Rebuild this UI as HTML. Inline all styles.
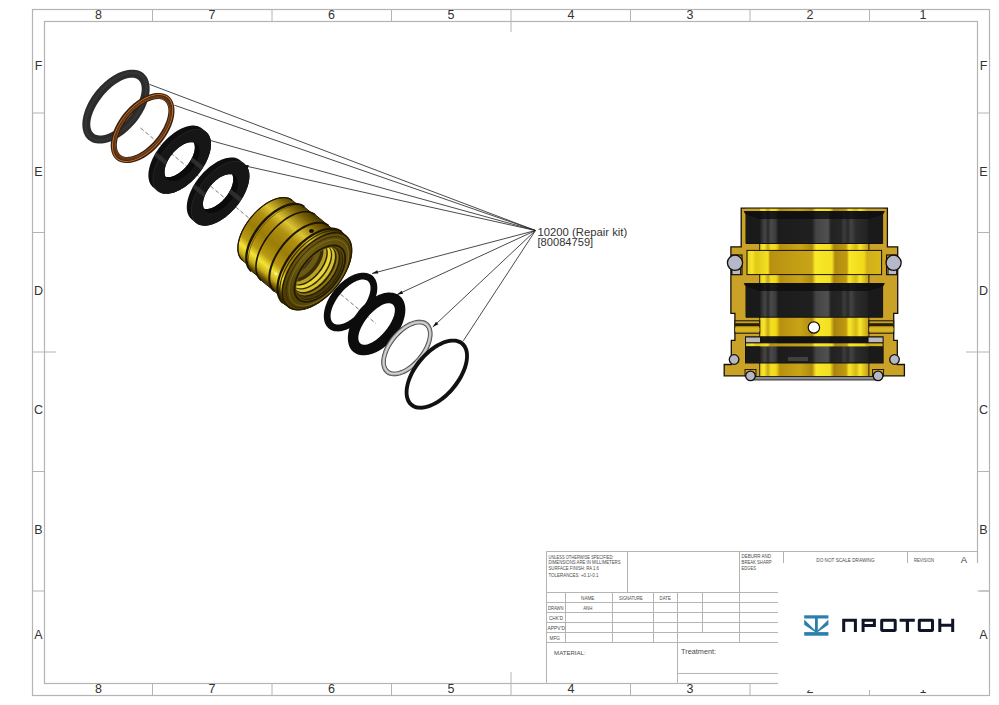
<!DOCTYPE html>
<html><head><meta charset="utf-8"><style>
html,body{margin:0;padding:0;background:#fff;}
svg{display:block;}
text{font-family:"Liberation Sans",sans-serif;}
.rl{font-size:12.5px;fill:#333;text-anchor:middle;}
</style></head><body>
<svg width="999" height="705" viewBox="0 0 999 705">

<defs>
<linearGradient id="gr1" gradientUnits="userSpaceOnUse" x1="80" y1="140" x2="150" y2="70">
<stop offset="0" stop-color="#262626"/><stop offset="0.5" stop-color="#3a3a3a"/><stop offset="1" stop-color="#2a2a2a"/></linearGradient>
<linearGradient id="gold" gradientUnits="userSpaceOnUse" x1="262" y1="285" x2="322" y2="213"><stop offset="0" stop-color="#2a2000"/><stop offset="0.06" stop-color="#5a4604"/><stop offset="0.12" stop-color="#c8b018"/><stop offset="0.19" stop-color="#f4e438"/><stop offset="0.27" stop-color="#b89810"/><stop offset="0.42" stop-color="#9a7c08"/><stop offset="0.58" stop-color="#b09010"/><stop offset="0.68" stop-color="#dcc434"/><stop offset="0.84" stop-color="#7a6206"/><stop offset="1" stop-color="#2a2000"/></linearGradient>
<linearGradient id="face" gradientUnits="userSpaceOnUse" x1="282" y1="300" x2="352" y2="240"><stop offset="0" stop-color="#4a3c04"/><stop offset="0.5" stop-color="#6e5c12"/><stop offset="1" stop-color="#5a4a0a"/></linearGradient>
<linearGradient id="bore" gradientUnits="userSpaceOnUse" x1="746" y1="0" x2="882" y2="0"><stop offset="0.0000" stop-color="#c9a227"/><stop offset="0.1007" stop-color="#c9a227"/><stop offset="0.1029" stop-color="#e8d020"/><stop offset="0.1324" stop-color="#f8e828"/><stop offset="0.1618" stop-color="#c8a818"/><stop offset="0.1838" stop-color="#f4e020"/><stop offset="0.2206" stop-color="#f0d818"/><stop offset="0.2500" stop-color="#b89010"/><stop offset="0.3971" stop-color="#c8a418"/><stop offset="0.4853" stop-color="#b08a10"/><stop offset="0.5147" stop-color="#f8e828"/><stop offset="0.6176" stop-color="#f4e020"/><stop offset="0.6471" stop-color="#a88410"/><stop offset="0.7353" stop-color="#c09a10"/><stop offset="0.7574" stop-color="#f8e828"/><stop offset="0.8088" stop-color="#d8b818"/><stop offset="0.8382" stop-color="#f8e828"/><stop offset="0.8934" stop-color="#c8a418"/><stop offset="0.8971" stop-color="#c9a227"/><stop offset="1.0000" stop-color="#c9a227"/></linearGradient>
<linearGradient id="band" gradientUnits="userSpaceOnUse" x1="747" y1="0" x2="882" y2="0"><stop offset="0.0000" stop-color="#e8d020"/><stop offset="0.0370" stop-color="#f8e828"/><stop offset="0.0667" stop-color="#e0c818"/><stop offset="0.1556" stop-color="#f4e020"/><stop offset="0.1704" stop-color="#b89010"/><stop offset="0.3185" stop-color="#c09c14"/><stop offset="0.4815" stop-color="#c8a418"/><stop offset="0.5037" stop-color="#f8e828"/><stop offset="0.6296" stop-color="#f4e020"/><stop offset="0.6519" stop-color="#b08c10"/><stop offset="0.7407" stop-color="#c09a10"/><stop offset="0.7556" stop-color="#f8e828"/><stop offset="0.8667" stop-color="#f0d818"/><stop offset="0.8889" stop-color="#d0b018"/><stop offset="1.0000" stop-color="#d8b818"/></linearGradient>
<linearGradient id="seal" gradientUnits="userSpaceOnUse" x1="746" y1="0" x2="882" y2="0"><stop offset="0.0000" stop-color="#1a1a1a"/><stop offset="0.1029" stop-color="#1a1a1a"/><stop offset="0.1103" stop-color="#2a2a2a"/><stop offset="0.1397" stop-color="#464646"/><stop offset="0.1618" stop-color="#2a2a2a"/><stop offset="0.1838" stop-color="#4a4a4a"/><stop offset="0.2206" stop-color="#3a3a3a"/><stop offset="0.2353" stop-color="#1c1c1c"/><stop offset="0.4853" stop-color="#202020"/><stop offset="0.5147" stop-color="#444"/><stop offset="0.6029" stop-color="#505050"/><stop offset="0.6250" stop-color="#222"/><stop offset="0.6985" stop-color="#262626"/><stop offset="0.7206" stop-color="#3c3c3c"/><stop offset="0.7500" stop-color="#2a2a2a"/><stop offset="0.7721" stop-color="#444"/><stop offset="0.8088" stop-color="#2c2c2c"/><stop offset="0.8971" stop-color="#222"/><stop offset="0.9044" stop-color="#1a1a1a"/><stop offset="1.0000" stop-color="#1a1a1a"/></linearGradient>
</defs>

<rect width="999" height="705" fill="#fff"/>
<rect x="32.5" y="9.5" width="957" height="686" fill="none" stroke="#b4b4b4" stroke-width="1.2"/>
<rect x="44.5" y="21.5" width="933" height="662" fill="none" stroke="#b4b4b4" stroke-width="1.2"/>
<line x1="152.5" y1="9.5" x2="152.5" y2="21.5" stroke="#b4b4b4" stroke-width="1"/>
<line x1="152.5" y1="683.5" x2="152.5" y2="695.5" stroke="#b4b4b4" stroke-width="1"/>
<line x1="272" y1="9.5" x2="272" y2="21.5" stroke="#b4b4b4" stroke-width="1"/>
<line x1="272" y1="683.5" x2="272" y2="695.5" stroke="#b4b4b4" stroke-width="1"/>
<line x1="391.5" y1="9.5" x2="391.5" y2="21.5" stroke="#b4b4b4" stroke-width="1"/>
<line x1="391.5" y1="683.5" x2="391.5" y2="695.5" stroke="#b4b4b4" stroke-width="1"/>
<line x1="511" y1="9.5" x2="511" y2="21.5" stroke="#b4b4b4" stroke-width="1"/>
<line x1="511" y1="683.5" x2="511" y2="695.5" stroke="#b4b4b4" stroke-width="1"/>
<line x1="630.5" y1="9.5" x2="630.5" y2="21.5" stroke="#b4b4b4" stroke-width="1"/>
<line x1="630.5" y1="683.5" x2="630.5" y2="695.5" stroke="#b4b4b4" stroke-width="1"/>
<line x1="750" y1="9.5" x2="750" y2="21.5" stroke="#b4b4b4" stroke-width="1"/>
<line x1="750" y1="683.5" x2="750" y2="695.5" stroke="#b4b4b4" stroke-width="1"/>
<line x1="869.5" y1="9.5" x2="869.5" y2="21.5" stroke="#b4b4b4" stroke-width="1"/>
<line x1="869.5" y1="683.5" x2="869.5" y2="695.5" stroke="#b4b4b4" stroke-width="1"/>
<line x1="32.5" y1="113" x2="44.5" y2="113" stroke="#b4b4b4" stroke-width="1"/>
<line x1="977.5" y1="113" x2="989.5" y2="113" stroke="#b4b4b4" stroke-width="1"/>
<line x1="32.5" y1="232.5" x2="44.5" y2="232.5" stroke="#b4b4b4" stroke-width="1"/>
<line x1="977.5" y1="232.5" x2="989.5" y2="232.5" stroke="#b4b4b4" stroke-width="1"/>
<line x1="32.5" y1="352" x2="44.5" y2="352" stroke="#b4b4b4" stroke-width="1"/>
<line x1="977.5" y1="352" x2="989.5" y2="352" stroke="#b4b4b4" stroke-width="1"/>
<line x1="32.5" y1="471.5" x2="44.5" y2="471.5" stroke="#b4b4b4" stroke-width="1"/>
<line x1="977.5" y1="471.5" x2="989.5" y2="471.5" stroke="#b4b4b4" stroke-width="1"/>
<line x1="32.5" y1="591" x2="44.5" y2="591" stroke="#b4b4b4" stroke-width="1"/>
<line x1="977.5" y1="591" x2="989.5" y2="591" stroke="#b4b4b4" stroke-width="1"/>
<line x1="511" y1="21.5" x2="511" y2="32" stroke="#b4b4b4" stroke-width="1"/>
<line x1="44.5" y1="352" x2="56" y2="352" stroke="#b4b4b4" stroke-width="1"/>
<line x1="966" y1="352" x2="977.5" y2="352" stroke="#b4b4b4" stroke-width="1"/>
<line x1="511" y1="672" x2="511" y2="683.5" stroke="#b4b4b4" stroke-width="1"/>
<text x="98.6" y="19" class="rl">8</text>
<text x="98.6" y="693" class="rl">8</text>
<text x="212" y="19" class="rl">7</text>
<text x="212" y="693" class="rl">7</text>
<text x="331.5" y="19" class="rl">6</text>
<text x="331.5" y="693" class="rl">6</text>
<text x="451" y="19" class="rl">5</text>
<text x="451" y="693" class="rl">5</text>
<text x="571" y="19" class="rl">4</text>
<text x="571" y="693" class="rl">4</text>
<text x="690" y="19" class="rl">3</text>
<text x="690" y="693" class="rl">3</text>
<text x="810" y="19" class="rl">2</text>
<text x="810" y="693" class="rl">2</text>
<text x="923" y="19" class="rl">1</text>
<text x="923" y="693" class="rl">1</text>
<text x="38.5" y="70.3" class="rl">F</text>
<text x="983.5" y="70.3" class="rl">F</text>
<text x="38.5" y="176.3" class="rl">E</text>
<text x="983.5" y="176.3" class="rl">E</text>
<text x="38.5" y="295.3" class="rl">D</text>
<text x="983.5" y="295.3" class="rl">D</text>
<text x="38.5" y="414.3" class="rl">C</text>
<text x="983.5" y="414.3" class="rl">C</text>
<text x="38.5" y="534.3" class="rl">B</text>
<text x="983.5" y="534.3" class="rl">B</text>
<text x="38.5" y="639.3" class="rl">A</text>
<text x="983.5" y="639.3" class="rl">A</text>
<line x1="546.5" y1="551.5" x2="977.5" y2="551.5" stroke="#b4b4b4" stroke-width="1"/>
<line x1="546.5" y1="551.5" x2="546.5" y2="683.5" stroke="#b4b4b4" stroke-width="1"/>
<line x1="627.5" y1="551.5" x2="627.5" y2="592.5" stroke="#b4b4b4" stroke-width="1"/>
<line x1="546.5" y1="592.5" x2="778" y2="592.5" stroke="#b4b4b4" stroke-width="1"/>
<line x1="546.5" y1="602.5" x2="778" y2="602.5" stroke="#b4b4b4" stroke-width="1"/>
<line x1="546.5" y1="612.5" x2="778" y2="612.5" stroke="#b4b4b4" stroke-width="1"/>
<line x1="546.5" y1="622.5" x2="778" y2="622.5" stroke="#b4b4b4" stroke-width="1"/>
<line x1="546.5" y1="632.5" x2="778" y2="632.5" stroke="#b4b4b4" stroke-width="1"/>
<line x1="546.5" y1="642.5" x2="778" y2="642.5" stroke="#b4b4b4" stroke-width="1"/>
<line x1="677.5" y1="673.5" x2="778" y2="673.5" stroke="#b4b4b4" stroke-width="1"/>
<line x1="565.5" y1="592.5" x2="565.5" y2="642.5" stroke="#b4b4b4" stroke-width="1"/>
<line x1="612.5" y1="592.5" x2="612.5" y2="642.5" stroke="#b4b4b4" stroke-width="1"/>
<line x1="653.5" y1="592.5" x2="653.5" y2="642.5" stroke="#b4b4b4" stroke-width="1"/>
<line x1="677.5" y1="592.5" x2="677.5" y2="683.5" stroke="#b4b4b4" stroke-width="1"/>
<line x1="702.5" y1="592.5" x2="702.5" y2="632.5" stroke="#b4b4b4" stroke-width="1"/>
<line x1="739.5" y1="551.5" x2="739.5" y2="642.5" stroke="#b4b4b4" stroke-width="1"/>
<line x1="783.5" y1="551.5" x2="783.5" y2="563" stroke="#b4b4b4" stroke-width="1"/>
<line x1="907.5" y1="551.5" x2="907.5" y2="563" stroke="#b4b4b4" stroke-width="1"/>
<text x="548.5" y="558.5" font-size="5.2" fill="#4a4a4a" text-anchor="start" textLength="65" lengthAdjust="spacingAndGlyphs">UNLESS OTHERWISE SPECIFIED:</text>
<text x="548.5" y="564.4" font-size="5.2" fill="#4a4a4a" text-anchor="start" textLength="72" lengthAdjust="spacingAndGlyphs">DIMENSIONS ARE IN MILLIMETERS</text>
<text x="548.5" y="570.3" font-size="5.2" fill="#4a4a4a" text-anchor="start" textLength="50.5" lengthAdjust="spacingAndGlyphs">SURFACE FINISH: RA 1.6</text>
<text x="548.5" y="576.6" font-size="5.2" fill="#4a4a4a" text-anchor="start" textLength="50" lengthAdjust="spacingAndGlyphs">TOLERANCES: +0.1/-0.1</text>
<text x="581.1" y="600" font-size="5.2" fill="#4a4a4a" text-anchor="start" textLength="13.3" lengthAdjust="spacingAndGlyphs">NAME</text>
<text x="619" y="600" font-size="5.2" fill="#4a4a4a" text-anchor="start" textLength="23.8" lengthAdjust="spacingAndGlyphs">SIGNATURE</text>
<text x="659.6" y="600" font-size="5.2" fill="#4a4a4a" text-anchor="start" textLength="11.2" lengthAdjust="spacingAndGlyphs">DATE</text>
<text x="548" y="610.1" font-size="5.2" fill="#4a4a4a" text-anchor="start" textLength="15.5" lengthAdjust="spacingAndGlyphs">DRAWN</text>
<text x="583.2" y="610.1" font-size="5.2" fill="#4a4a4a" text-anchor="start" textLength="9.1" lengthAdjust="spacingAndGlyphs">ANH</text>
<text x="549" y="619.9" font-size="5.2" fill="#4a4a4a" text-anchor="start" textLength="14" lengthAdjust="spacingAndGlyphs">CHK'D</text>
<text x="547.5" y="629.9" font-size="5.2" fill="#4a4a4a" text-anchor="start" textLength="17.5" lengthAdjust="spacingAndGlyphs">APPV'D</text>
<text x="549.5" y="639.7" font-size="5.2" fill="#4a4a4a" text-anchor="start" textLength="10.5" lengthAdjust="spacingAndGlyphs">MFG</text>
<text x="554.1" y="655.3" font-size="6.2" fill="#4a4a4a" text-anchor="start" textLength="31.5" lengthAdjust="spacingAndGlyphs">MATERIAL:</text>
<text x="681.1" y="653.8" font-size="7" fill="#4a4a4a" text-anchor="start" textLength="35" lengthAdjust="spacingAndGlyphs">Treatment:</text>
<text x="741.6" y="558.3" font-size="5.2" fill="#4a4a4a" text-anchor="start" textLength="29.4" lengthAdjust="spacingAndGlyphs">DEBURR AND</text>
<text x="741.6" y="564" font-size="5.2" fill="#4a4a4a" text-anchor="start" textLength="30" lengthAdjust="spacingAndGlyphs">BREAK SHARP</text>
<text x="741.6" y="570" font-size="5.2" fill="#4a4a4a" text-anchor="start" textLength="14.4" lengthAdjust="spacingAndGlyphs">EDGES</text>
<text x="816.3" y="561.9" font-size="5.2" fill="#4a4a4a" text-anchor="start" textLength="58.3" lengthAdjust="spacingAndGlyphs">DO NOT SCALE DRAWING</text>
<text x="914" y="562" font-size="5.2" fill="#4a4a4a" text-anchor="start" textLength="20" lengthAdjust="spacingAndGlyphs">REVISION</text>
<text x="964" y="562.5" font-size="9.5" fill="#444" text-anchor="middle">A</text>
<rect x="778" y="563" width="201.5" height="127" fill="#fff"/>
<line x1="977.5" y1="591" x2="989.5" y2="591" stroke="#b4b4b4" stroke-width="1"/>
<g fill="#2a7fab"><rect x="804.2" y="615.3" width="24.2" height="3.2"/><rect x="804.2" y="632.1" width="24.2" height="3.6"/><rect x="815" y="618" width="2.8" height="14.5"/><polygon points="804.2,619.6 804.2,624.8 815,632 815.8,631"/><polygon points="828.4,619.6 828.4,624.8 817.8,632 817,631"/></g>
<g fill="#0e1524"><path d="M842.2,631.9 V618.8 H856.9 V631.9 H853.9 V621.8 H845.2 V631.9 Z"/><path d="M861.6,631.9 V618.8 H875.9 V627.0 H864.6 V631.9 Z M864.6,621.8 V624.0 H872.9 V621.8 Z" fill-rule="evenodd"/><path fill-rule="evenodd" d="M882.0,618.8 H894.9000000000001 Q896.7,618.8 896.7,620.5999999999999 V630.1 Q896.7,631.9 894.9000000000001,631.9 H882.0 Q880.2,631.9 880.2,630.1 V620.5999999999999 Q880.2,618.8 882.0,618.8 Z M883.2,621.8 V628.9 H893.7 V621.8 Z"/><path d="M899.6,618.8 H914.8 V621.8 H909.0 V631.9 H905.8 V621.8 H899.6 Z"/><path fill-rule="evenodd" d="M919.5999999999999,618.8 H932.2 Q934.0,618.8 934.0,620.5999999999999 V630.1 Q934.0,631.9 932.2,631.9 H919.5999999999999 Q917.8,631.9 917.8,630.1 V620.5999999999999 Q917.8,618.8 919.5999999999999,618.8 Z M920.8,621.8 V628.9 H931.0 V621.8 Z"/><path d="M938.3,618.8 H941.3 V623.7 H951.2 V618.8 H954.2 V631.9 H951.2 V626.8 H941.3 V631.9 H938.3 Z"/></g>
<line x1="140.5" y1="128" x2="376" y2="323.6" stroke="#555" stroke-width="0.8" stroke-dasharray="4,2.5"/>
<path d="M142.12,72.33 L140.67,71.50 L139.12,70.82 L137.48,70.29 L135.74,69.92 L133.91,69.70 L132.01,69.65 L130.04,69.75 L128.01,70.01 L125.93,70.42 L123.81,70.99 L121.65,71.72 L119.47,72.59 L117.28,73.61 L115.07,74.77 L112.88,76.07 L110.69,77.49 L108.53,79.04 L106.40,80.71 L104.31,82.49 L102.28,84.38 L100.30,86.36 L98.38,88.42 L96.55,90.56 L94.79,92.78 L93.13,95.05 L91.57,97.37 L90.11,99.73 L88.76,102.12 L87.52,104.53 L86.41,106.94 L85.43,109.36 L84.58,111.76 L83.86,114.15 L83.28,116.50 L82.84,118.80 L82.54,121.06 L82.38,123.25 L82.37,125.38 L82.50,127.42 L82.78,129.37 L83.20,131.22 L83.76,132.97 L84.45,134.61 L85.29,136.13 L86.25,137.52 L87.34,138.78 L88.55,139.90 L89.88,140.87 L91.33,141.70 L92.88,142.38 L94.52,142.91 L96.26,143.28 L98.09,143.50 L99.99,143.55 L101.96,143.45 L103.99,143.19 L106.07,142.78 L108.19,142.21 L110.35,141.48 L112.53,140.61 L114.72,139.59 L116.93,138.43 L119.12,137.13 L121.31,135.71 L123.47,134.16 L125.60,132.49 L127.69,130.71 L129.72,128.82 L131.70,126.84 L133.62,124.78 L135.45,122.64 L137.21,120.42 L138.87,118.15 L140.43,115.83 L141.89,113.47 L143.24,111.08 L144.48,108.67 L145.59,106.26 L146.57,103.84 L147.42,101.44 L148.14,99.05 L148.72,96.70 L149.16,94.40 L149.46,92.14 L149.62,89.95 L149.63,87.82 L149.50,85.78 L149.22,83.83 L148.80,81.98 L148.24,80.23 L147.55,78.59 L146.71,77.07 L145.75,75.68 L144.66,74.42 L143.45,73.30 Z M138.97,80.47 L139.68,81.34 L140.29,82.32 L140.79,83.41 L141.19,84.59 L141.47,85.87 L141.65,87.24 L141.72,88.69 L141.68,90.22 L141.53,91.81 L141.27,93.47 L140.90,95.19 L140.43,96.96 L139.85,98.76 L139.16,100.60 L138.38,102.47 L137.51,104.35 L136.54,106.25 L135.48,108.14 L134.34,110.03 L133.12,111.90 L131.83,113.75 L130.47,115.57 L129.05,117.36 L127.57,119.09 L126.04,120.77 L124.47,122.40 L122.87,123.95 L121.23,125.43 L119.57,126.83 L117.90,128.14 L116.22,129.36 L114.53,130.48 L112.86,131.50 L111.19,132.42 L109.55,133.22 L107.94,133.91 L106.36,134.48 L104.82,134.93 L103.33,135.27 L101.89,135.48 L100.51,135.56 L99.20,135.52 L97.97,135.36 L96.80,135.07 L95.73,134.67 L94.73,134.14 L93.83,133.49 L93.03,132.73 L92.32,131.86 L91.71,130.88 L91.21,129.79 L90.81,128.61 L90.53,127.33 L90.35,125.96 L90.28,124.51 L90.32,122.98 L90.47,121.39 L90.73,119.73 L91.10,118.01 L91.57,116.24 L92.15,114.44 L92.84,112.60 L93.62,110.73 L94.49,108.85 L95.46,106.95 L96.52,105.06 L97.66,103.17 L98.88,101.30 L100.17,99.45 L101.53,97.63 L102.95,95.84 L104.43,94.11 L105.96,92.43 L107.53,90.80 L109.13,89.25 L110.77,87.77 L112.43,86.37 L114.10,85.06 L115.78,83.84 L117.47,82.72 L119.14,81.70 L120.81,80.78 L122.45,79.98 L124.06,79.29 L125.64,78.72 L127.18,78.27 L128.67,77.93 L130.11,77.72 L131.49,77.64 L132.80,77.68 L134.03,77.84 L135.20,78.13 L136.27,78.53 L137.27,79.06 L138.17,79.71 Z" fill="#2c2c2c" fill-rule="evenodd" />
<path d="M141.03,73.89 L139.71,73.15 L138.29,72.55 L136.78,72.09 L135.18,71.79 L133.49,71.63 L131.73,71.62 L129.91,71.77 L128.02,72.06 L126.08,72.50 L124.10,73.09 L122.09,73.82 L120.04,74.69 L117.98,75.69 L115.92,76.83 L113.85,78.10 L111.79,79.49 L109.75,80.99 L107.74,82.61 L105.76,84.32 L103.83,86.14 L101.94,88.04 L100.12,90.01 L98.37,92.07 L96.69,94.18 L95.09,96.34 L93.59,98.55 L92.18,100.80 L90.87,103.07 L89.67,105.35 L88.58,107.64 L87.61,109.93 L86.76,112.20 L86.04,114.45 L85.44,116.66 L84.98,118.83 L84.65,120.95 L84.45,123.00 L84.39,124.99 L84.46,126.90 L84.67,128.72 L85.01,130.44 L85.49,132.07 L86.09,133.58 L86.83,134.98 L87.68,136.26 L88.66,137.41 L89.76,138.43 L90.97,139.31 L92.29,140.05 L93.71,140.65 L95.22,141.11 L96.82,141.41 L98.51,141.57 L100.27,141.58 L102.09,141.43 L103.98,141.14 L105.92,140.70 L107.90,140.11 L109.91,139.38 L111.96,138.51 L114.02,137.51 L116.08,136.37 L118.15,135.10 L120.21,133.71 L122.25,132.21 L124.26,130.59 L126.24,128.88 L128.17,127.06 L130.06,125.16 L131.88,123.19 L133.63,121.13 L135.31,119.02 L136.91,116.86 L138.41,114.65 L139.82,112.40 L141.13,110.13 L142.33,107.85 L143.42,105.56 L144.39,103.27 L145.24,101.00 L145.96,98.75 L146.56,96.54 L147.02,94.37 L147.35,92.25 L147.55,90.20 L147.61,88.21 L147.54,86.30 L147.33,84.48 L146.99,82.76 L146.51,81.13 L145.91,79.62 L145.17,78.22 L144.32,76.94 L143.34,75.79 L142.24,74.77 Z M141.62,77.61 L142.49,78.64 L143.24,79.80 L143.87,81.07 L144.39,82.45 L144.78,83.93 L145.05,85.51 L145.20,87.18 L145.22,88.93 L145.11,90.76 L144.88,92.65 L144.53,94.61 L144.06,96.62 L143.46,98.67 L142.75,100.75 L141.92,102.86 L140.98,104.98 L139.94,107.12 L138.79,109.25 L137.55,111.36 L136.21,113.46 L134.79,115.53 L133.28,117.56 L131.70,119.54 L130.06,121.47 L128.35,123.34 L126.59,125.13 L124.79,126.84 L122.95,128.47 L121.07,130.00 L119.18,131.43 L117.27,132.76 L115.36,133.97 L113.45,135.07 L111.55,136.05 L109.67,136.90 L107.82,137.62 L106.00,138.20 L104.23,138.65 L102.51,138.97 L100.84,139.14 L99.24,139.18 L97.71,139.07 L96.26,138.83 L94.89,138.45 L93.61,137.93 L92.43,137.28 L91.35,136.50 L90.38,135.59 L89.51,134.56 L88.76,133.40 L88.13,132.13 L87.61,130.75 L87.22,129.27 L86.95,127.69 L86.80,126.02 L86.78,124.27 L86.89,122.44 L87.12,120.55 L87.47,118.59 L87.94,116.58 L88.54,114.53 L89.25,112.45 L90.08,110.34 L91.02,108.22 L92.06,106.08 L93.21,103.95 L94.45,101.84 L95.79,99.74 L97.21,97.67 L98.72,95.64 L100.30,93.66 L101.94,91.73 L103.65,89.86 L105.41,88.07 L107.21,86.36 L109.05,84.73 L110.93,83.20 L112.82,81.77 L114.73,80.44 L116.64,79.23 L118.55,78.13 L120.45,77.15 L122.33,76.30 L124.18,75.58 L126.00,75.00 L127.77,74.55 L129.49,74.23 L131.16,74.06 L132.76,74.02 L134.29,74.13 L135.74,74.37 L137.11,74.75 L138.39,75.27 L139.57,75.92 L140.65,76.70 Z" fill="#3a3a3a" fill-rule="evenodd" opacity="0.6"/>
<path d="M167.49,95.37 L166.14,94.59 L164.68,93.96 L163.13,93.47 L161.49,93.13 L159.76,92.94 L157.97,92.90 L156.11,93.01 L154.19,93.27 L152.22,93.68 L150.21,94.23 L148.17,94.93 L146.11,95.77 L144.03,96.75 L141.94,97.86 L139.86,99.11 L137.78,100.47 L135.73,101.96 L133.71,103.55 L131.73,105.25 L129.79,107.05 L127.91,108.94 L126.09,110.90 L124.34,112.95 L122.67,115.05 L121.08,117.21 L119.59,119.42 L118.19,121.67 L116.90,123.94 L115.72,126.23 L114.66,128.53 L113.71,130.82 L112.89,133.10 L112.20,135.36 L111.63,137.59 L111.20,139.78 L110.90,141.92 L110.74,144.00 L110.72,146.01 L110.83,147.94 L111.08,149.79 L111.46,151.54 L111.97,153.19 L112.62,154.74 L113.40,156.17 L114.30,157.48 L115.32,158.66 L116.46,159.71 L117.71,160.63 L119.06,161.41 L120.52,162.04 L122.07,162.53 L123.71,162.87 L125.44,163.06 L127.23,163.10 L129.09,162.99 L131.01,162.73 L132.98,162.32 L134.99,161.77 L137.03,161.07 L139.09,160.23 L141.17,159.25 L143.26,158.14 L145.34,156.89 L147.42,155.53 L149.47,154.04 L151.49,152.45 L153.47,150.75 L155.41,148.95 L157.29,147.06 L159.11,145.10 L160.86,143.05 L162.53,140.95 L164.12,138.79 L165.61,136.58 L167.01,134.33 L168.30,132.06 L169.48,129.77 L170.54,127.47 L171.49,125.18 L172.31,122.90 L173.00,120.64 L173.57,118.41 L174.00,116.22 L174.30,114.08 L174.46,112.00 L174.48,109.99 L174.37,108.06 L174.12,106.21 L173.74,104.46 L173.23,102.81 L172.58,101.26 L171.80,99.83 L170.90,98.52 L169.88,97.34 L168.74,96.29 Z M165.50,102.00 L166.22,102.89 L166.85,103.88 L167.37,104.98 L167.78,106.18 L168.09,107.47 L168.29,108.84 L168.38,110.30 L168.35,111.84 L168.22,113.44 L167.98,115.11 L167.63,116.83 L167.17,118.60 L166.61,120.41 L165.94,122.26 L165.17,124.12 L164.31,126.01 L163.36,127.90 L162.31,129.79 L161.18,131.68 L159.97,133.55 L158.69,135.39 L157.34,137.21 L155.92,138.98 L154.45,140.71 L152.93,142.38 L151.36,144.00 L149.76,145.54 L148.12,147.01 L146.46,148.39 L144.79,149.69 L143.10,150.90 L141.42,152.01 L139.73,153.01 L138.06,153.91 L136.41,154.70 L134.79,155.37 L133.20,155.93 L131.65,156.36 L130.15,156.68 L128.70,156.87 L127.31,156.94 L125.98,156.88 L124.73,156.71 L123.55,156.40 L122.46,155.98 L121.45,155.44 L120.53,154.78 L119.70,154.00 L118.98,153.11 L118.35,152.12 L117.83,151.02 L117.42,149.82 L117.11,148.53 L116.91,147.16 L116.82,145.70 L116.85,144.16 L116.98,142.56 L117.22,140.89 L117.57,139.17 L118.03,137.40 L118.59,135.59 L119.26,133.74 L120.03,131.88 L120.89,129.99 L121.84,128.10 L122.89,126.21 L124.02,124.32 L125.23,122.45 L126.51,120.61 L127.86,118.79 L129.28,117.02 L130.75,115.29 L132.27,113.62 L133.84,112.00 L135.44,110.46 L137.08,108.99 L138.74,107.61 L140.41,106.31 L142.10,105.10 L143.78,103.99 L145.47,102.99 L147.14,102.09 L148.79,101.30 L150.41,100.63 L152.00,100.07 L153.55,99.64 L155.05,99.32 L156.50,99.13 L157.89,99.06 L159.22,99.12 L160.47,99.29 L161.65,99.60 L162.74,100.02 L163.75,100.56 L164.67,101.22 Z" fill="#3a200c" fill-rule="evenodd" />
<path d="M166.98,96.17 L165.71,95.46 L164.35,94.89 L162.89,94.46 L161.34,94.18 L159.72,94.04 L158.02,94.04 L156.25,94.19 L154.43,94.49 L152.56,94.93 L150.64,95.51 L148.69,96.23 L146.71,97.08 L144.72,98.07 L142.72,99.19 L140.71,100.43 L138.72,101.78 L136.74,103.25 L134.78,104.83 L132.86,106.51 L130.98,108.27 L129.15,110.12 L127.38,112.05 L125.68,114.05 L124.04,116.10 L122.49,118.21 L121.02,120.36 L119.64,122.54 L118.36,124.75 L117.19,126.97 L116.13,129.19 L115.17,131.41 L114.34,133.61 L113.63,135.79 L113.04,137.94 L112.57,140.04 L112.24,142.09 L112.04,144.09 L111.96,146.01 L112.02,147.85 L112.21,149.62 L112.53,151.28 L112.98,152.85 L113.55,154.31 L114.25,155.66 L115.07,156.89 L116.01,158.00 L117.06,158.98 L118.22,159.83 L119.49,160.54 L120.85,161.11 L122.31,161.54 L123.86,161.82 L125.48,161.96 L127.18,161.96 L128.95,161.81 L130.77,161.51 L132.64,161.07 L134.56,160.49 L136.51,159.77 L138.49,158.92 L140.48,157.93 L142.48,156.81 L144.49,155.57 L146.48,154.22 L148.46,152.75 L150.42,151.17 L152.34,149.49 L154.22,147.73 L156.05,145.88 L157.82,143.95 L159.52,141.95 L161.16,139.90 L162.71,137.79 L164.18,135.64 L165.56,133.46 L166.84,131.25 L168.01,129.03 L169.07,126.81 L170.03,124.59 L170.86,122.39 L171.57,120.21 L172.16,118.06 L172.63,115.96 L172.96,113.91 L173.16,111.91 L173.24,109.99 L173.18,108.15 L172.99,106.38 L172.67,104.72 L172.22,103.15 L171.65,101.69 L170.95,100.34 L170.13,99.11 L169.19,98.00 L168.14,97.02 Z M168.44,98.80 L169.32,99.86 L170.10,101.03 L170.75,102.32 L171.29,103.73 L171.70,105.23 L171.99,106.84 L172.15,108.53 L172.18,110.31 L172.09,112.16 L171.87,114.08 L171.53,116.06 L171.06,118.10 L170.47,120.17 L169.77,122.28 L168.94,124.41 L168.00,126.56 L166.96,128.71 L165.81,130.86 L164.56,133.00 L163.21,135.12 L161.78,137.21 L160.27,139.25 L158.68,141.25 L157.02,143.19 L155.30,145.07 L153.52,146.88 L151.70,148.60 L149.84,150.23 L147.95,151.77 L146.03,153.21 L144.10,154.54 L142.17,155.76 L140.23,156.86 L138.31,157.83 L136.40,158.68 L134.52,159.39 L132.68,159.97 L130.88,160.42 L129.13,160.72 L127.43,160.89 L125.80,160.91 L124.25,160.79 L122.77,160.54 L121.37,160.14 L120.07,159.60 L118.87,158.93 L117.76,158.13 L116.76,157.20 L115.88,156.14 L115.10,154.97 L114.45,153.68 L113.91,152.27 L113.50,150.77 L113.21,149.16 L113.05,147.47 L113.02,145.69 L113.11,143.84 L113.33,141.92 L113.67,139.94 L114.14,137.90 L114.73,135.83 L115.43,133.72 L116.26,131.59 L117.20,129.44 L118.24,127.29 L119.39,125.14 L120.64,123.00 L121.99,120.88 L123.42,118.79 L124.93,116.75 L126.52,114.75 L128.18,112.81 L129.90,110.93 L131.68,109.12 L133.50,107.40 L135.36,105.77 L137.25,104.23 L139.17,102.79 L141.10,101.46 L143.03,100.24 L144.97,99.14 L146.89,98.17 L148.80,97.32 L150.68,96.61 L152.52,96.03 L154.32,95.58 L156.07,95.28 L157.77,95.11 L159.40,95.09 L160.95,95.21 L162.43,95.46 L163.83,95.86 L165.13,96.40 L166.33,97.07 L167.44,97.87 Z" fill="#c06c2a" fill-rule="evenodd" />
<path d="M165.78,97.71 L164.57,97.03 L163.26,96.48 L161.87,96.06 L160.39,95.79 L158.84,95.65 L157.21,95.64 L155.52,95.78 L153.78,96.06 L151.99,96.47 L150.16,97.01 L148.30,97.69 L146.41,98.50 L144.51,99.44 L142.60,100.50 L140.69,101.67 L138.78,102.96 L136.90,104.35 L135.04,105.85 L133.21,107.44 L131.42,109.12 L129.67,110.88 L127.99,112.72 L126.36,114.62 L124.81,116.57 L123.33,118.58 L121.94,120.62 L120.63,122.70 L119.41,124.80 L118.30,126.91 L117.29,129.03 L116.39,131.15 L115.60,133.25 L114.93,135.33 L114.37,137.37 L113.94,139.38 L113.63,141.34 L113.44,143.24 L113.38,145.07 L113.44,146.83 L113.63,148.52 L113.94,150.11 L114.37,151.61 L114.93,153.01 L115.60,154.30 L116.39,155.48 L117.29,156.54 L118.30,157.48 L119.42,158.29 L120.63,158.97 L121.94,159.52 L123.33,159.94 L124.81,160.21 L126.36,160.35 L127.99,160.36 L129.68,160.22 L131.42,159.94 L133.21,159.53 L135.04,158.99 L136.90,158.31 L138.79,157.50 L140.69,156.56 L142.60,155.50 L144.51,154.33 L146.42,153.04 L148.30,151.65 L150.16,150.15 L151.99,148.56 L153.78,146.88 L155.53,145.12 L157.21,143.28 L158.84,141.38 L160.39,139.43 L161.87,137.42 L163.26,135.38 L164.57,133.30 L165.79,131.20 L166.90,129.09 L167.91,126.97 L168.81,124.85 L169.60,122.75 L170.27,120.67 L170.83,118.63 L171.26,116.62 L171.57,114.66 L171.76,112.76 L171.82,110.93 L171.76,109.17 L171.57,107.48 L171.26,105.89 L170.83,104.39 L170.27,102.99 L169.60,101.70 L168.81,100.52 L167.91,99.46 L166.90,98.52 Z M166.67,100.77 L167.49,101.75 L168.20,102.84 L168.81,104.04 L169.30,105.34 L169.67,106.73 L169.93,108.22 L170.08,109.80 L170.10,111.45 L170.01,113.17 L169.80,114.95 L169.47,116.79 L169.03,118.68 L168.47,120.61 L167.81,122.57 L167.04,124.56 L166.16,126.55 L165.18,128.56 L164.10,130.56 L162.93,132.55 L161.68,134.52 L160.34,136.47 L158.93,138.38 L157.45,140.24 L155.90,142.05 L154.30,143.80 L152.65,145.48 L150.95,147.09 L149.22,148.62 L147.46,150.06 L145.68,151.40 L143.88,152.64 L142.08,153.78 L140.28,154.81 L138.50,155.72 L136.73,156.52 L134.98,157.19 L133.27,157.73 L131.60,158.15 L129.97,158.44 L128.40,158.60 L126.89,158.63 L125.45,158.53 L124.08,158.30 L122.79,157.94 L121.58,157.44 L120.47,156.83 L119.45,156.09 L118.53,155.23 L117.71,154.25 L117.00,153.16 L116.39,151.96 L115.90,150.66 L115.53,149.27 L115.27,147.78 L115.12,146.20 L115.10,144.55 L115.19,142.83 L115.40,141.05 L115.73,139.21 L116.17,137.32 L116.73,135.39 L117.39,133.43 L118.16,131.44 L119.04,129.45 L120.02,127.44 L121.10,125.44 L122.27,123.45 L123.52,121.48 L124.86,119.53 L126.27,117.62 L127.75,115.76 L129.30,113.95 L130.90,112.20 L132.55,110.52 L134.25,108.91 L135.98,107.38 L137.74,105.94 L139.52,104.60 L141.32,103.36 L143.12,102.22 L144.92,101.19 L146.70,100.28 L148.47,99.48 L150.22,98.81 L151.93,98.27 L153.60,97.85 L155.23,97.56 L156.80,97.40 L158.31,97.37 L159.75,97.47 L161.12,97.70 L162.41,98.06 L163.62,98.56 L164.73,99.17 L165.75,99.91 Z" fill="#62381a" fill-rule="evenodd" />
<path d="M164.43,99.51 L163.30,98.87 L162.08,98.36 L160.78,97.98 L159.40,97.73 L157.95,97.61 L156.43,97.61 L154.85,97.75 L153.22,98.02 L151.55,98.41 L149.83,98.93 L148.09,99.58 L146.32,100.35 L144.54,101.24 L142.75,102.24 L140.95,103.35 L139.17,104.56 L137.40,105.88 L135.65,107.29 L133.93,108.79 L132.25,110.38 L130.61,112.04 L129.02,113.76 L127.50,115.55 L126.03,117.39 L124.64,119.28 L123.33,121.20 L122.09,123.15 L120.95,125.13 L119.90,127.11 L118.94,129.10 L118.09,131.09 L117.34,133.06 L116.70,135.01 L116.17,136.93 L115.75,138.81 L115.45,140.65 L115.26,142.43 L115.20,144.15 L115.24,145.80 L115.41,147.37 L115.69,148.86 L116.09,150.27 L116.60,151.57 L117.23,152.78 L117.96,153.88 L118.79,154.87 L119.73,155.74 L120.77,156.49 L121.90,157.13 L123.12,157.64 L124.42,158.02 L125.80,158.27 L127.25,158.39 L128.77,158.39 L130.35,158.25 L131.98,157.98 L133.65,157.59 L135.37,157.07 L137.11,156.42 L138.88,155.65 L140.66,154.76 L142.45,153.76 L144.25,152.65 L146.03,151.44 L147.80,150.12 L149.55,148.71 L151.27,147.21 L152.95,145.62 L154.59,143.96 L156.18,142.24 L157.70,140.45 L159.17,138.61 L160.56,136.72 L161.87,134.80 L163.11,132.85 L164.25,130.87 L165.30,128.89 L166.26,126.90 L167.11,124.91 L167.86,122.94 L168.50,120.99 L169.03,119.07 L169.45,117.19 L169.75,115.35 L169.94,113.57 L170.00,111.85 L169.96,110.20 L169.79,108.63 L169.51,107.14 L169.11,105.73 L168.60,104.43 L167.97,103.22 L167.24,102.12 L166.41,101.13 L165.47,100.26 Z M165.93,101.64 L166.73,102.60 L167.43,103.66 L168.03,104.83 L168.51,106.10 L168.89,107.46 L169.15,108.92 L169.30,110.45 L169.33,112.05 L169.25,113.73 L169.06,115.47 L168.75,117.26 L168.33,119.09 L167.80,120.97 L167.17,122.87 L166.42,124.80 L165.58,126.74 L164.64,128.68 L163.60,130.63 L162.47,132.56 L161.26,134.47 L159.97,136.35 L158.60,138.20 L157.16,140.01 L155.67,141.76 L154.11,143.45 L152.51,145.08 L150.86,146.64 L149.18,148.11 L147.47,149.50 L145.74,150.80 L144.00,152.00 L142.25,153.09 L140.50,154.08 L138.77,154.96 L137.04,155.72 L135.34,156.37 L133.68,156.89 L132.05,157.29 L130.46,157.56 L128.93,157.70 L127.46,157.72 L126.05,157.62 L124.71,157.38 L123.45,157.02 L122.27,156.53 L121.18,155.93 L120.18,155.20 L119.27,154.36 L118.47,153.40 L117.77,152.34 L117.17,151.17 L116.69,149.90 L116.31,148.54 L116.05,147.08 L115.90,145.55 L115.87,143.95 L115.95,142.27 L116.14,140.53 L116.45,138.74 L116.87,136.91 L117.40,135.03 L118.03,133.13 L118.78,131.20 L119.62,129.26 L120.56,127.32 L121.60,125.37 L122.73,123.44 L123.94,121.53 L125.23,119.65 L126.60,117.80 L128.04,115.99 L129.53,114.24 L131.09,112.55 L132.69,110.92 L134.34,109.36 L136.02,107.89 L137.73,106.50 L139.46,105.20 L141.20,104.00 L142.95,102.91 L144.70,101.92 L146.43,101.04 L148.16,100.28 L149.86,99.63 L151.52,99.11 L153.15,98.71 L154.74,98.44 L156.27,98.30 L157.74,98.28 L159.15,98.38 L160.49,98.62 L161.75,98.98 L162.93,99.47 L164.02,100.07 L165.02,100.80 Z" fill="#9a5622" fill-rule="evenodd" />
<path d="M192.18,125.59 L190.51,125.74 L188.79,126.03 L187.01,126.45 L185.20,127.01 L183.35,127.71 L181.48,128.53 L179.59,129.47 L177.69,130.54 L175.79,131.73 L173.90,133.02 L172.02,134.42 L170.16,135.93 L168.34,137.52 L166.56,139.21 L164.82,140.97 L163.13,142.81 L161.51,144.71 L159.95,146.66 L158.47,148.66 L157.08,150.71 L155.76,152.78 L154.54,154.88 L153.42,156.98 L152.40,159.10 L151.49,161.20 L150.69,163.29 L150.01,165.36 L149.44,167.40 L148.99,169.39 L148.66,171.34 L148.46,173.22 L148.38,175.05 L148.43,176.79 L148.59,178.46 L148.89,180.04 L149.30,181.52 L149.84,182.90 L150.49,184.18 L151.26,185.34 L152.14,186.38 L153.13,187.30 L157.67,191.05 L158.77,191.84 L159.96,192.51 L161.25,193.04 L162.62,193.44 L164.08,193.70 L165.62,193.83 L167.22,193.81 L168.89,193.66 L170.61,193.37 L172.39,192.95 L174.20,192.39 L176.05,191.69 L177.92,190.87 L179.81,189.93 L181.71,188.86 L183.61,187.67 L185.50,186.38 L187.38,184.98 L189.24,183.47 L191.06,181.88 L192.84,180.19 L194.58,178.43 L196.27,176.59 L197.89,174.69 L199.45,172.74 L200.93,170.74 L202.32,168.69 L203.64,166.62 L204.86,164.52 L205.98,162.42 L207.00,160.30 L207.91,158.20 L208.71,156.11 L209.39,154.04 L209.96,152.00 L210.41,150.01 L210.74,148.06 L210.94,146.18 L211.02,144.35 L210.97,142.61 L210.81,140.94 L210.51,139.36 L210.10,137.88 L209.56,136.50 L208.91,135.22 L208.14,134.06 L207.26,133.02 L206.27,132.10 L201.73,128.35 L200.63,127.56 L199.44,126.89 L198.15,126.36 L196.78,125.96 L195.32,125.70 L193.78,125.57 Z M165.56,176.85 L165.43,176.61 L165.11,175.78 L164.86,174.89 L164.69,173.94 L164.59,172.94 L164.56,171.90 L164.61,170.80 L164.73,169.67 L164.93,168.51 L165.19,167.31 L165.54,166.09 L165.95,164.85 L166.43,163.60 L166.97,162.33 L167.58,161.07 L168.26,159.81 L168.99,158.55 L169.77,157.31 L170.61,156.08 L171.50,154.88 L172.43,153.71 L173.40,152.57 L174.41,151.47 L175.46,150.41 L176.53,149.40 L177.62,148.45 L178.73,147.54 L179.86,146.70 L180.99,145.93 L182.13,145.22 L183.27,144.58 L184.40,144.01 L185.53,143.52 L186.63,143.10 L187.72,142.77 L188.78,142.51 L189.82,142.34 L190.82,142.25 L191.78,142.24 L192.70,142.31 L193.57,142.47 L193.84,142.55 L193.97,142.79 L194.29,143.62 L194.54,144.51 L194.71,145.46 L194.81,146.46 L194.84,147.50 L194.79,148.60 L194.67,149.73 L194.47,150.89 L194.21,152.09 L193.86,153.31 L193.45,154.55 L192.97,155.80 L192.43,157.07 L191.82,158.33 L191.14,159.59 L190.41,160.85 L189.63,162.09 L188.79,163.32 L187.90,164.52 L186.97,165.69 L186.00,166.83 L184.99,167.93 L183.94,168.99 L182.87,170.00 L181.78,170.95 L180.67,171.86 L179.54,172.70 L178.41,173.47 L177.27,174.18 L176.13,174.82 L175.00,175.39 L173.87,175.88 L172.77,176.30 L171.68,176.63 L170.62,176.89 L169.58,177.06 L168.58,177.15 L167.62,177.16 L166.70,177.09 L165.83,176.93 Z" fill="#0e0e0e" fill-rule="evenodd" />
<path d="M205.18,131.30 L203.99,130.64 L202.70,130.10 L201.32,129.71 L199.87,129.44 L198.33,129.32 L196.73,129.33 L195.06,129.49 L193.33,129.78 L191.56,130.20 L189.75,130.76 L187.90,131.45 L186.03,132.27 L184.14,133.22 L182.24,134.29 L180.34,135.47 L178.44,136.77 L176.57,138.17 L174.71,139.67 L172.89,141.27 L171.10,142.95 L169.36,144.72 L167.68,146.55 L166.06,148.45 L164.50,150.41 L163.02,152.41 L161.62,154.46 L160.31,156.53 L159.09,158.62 L157.97,160.73 L156.95,162.84 L156.04,164.95 L155.24,167.04 L154.55,169.11 L153.99,171.14 L153.54,173.14 L153.21,175.08 L153.01,176.97 L152.93,178.79 L152.97,180.54 L153.14,182.21 L153.43,183.78 L153.85,185.27 L154.38,186.65 L155.04,187.92 L155.81,189.09 L156.69,190.13 L157.67,191.05 L158.77,191.84 L159.96,192.51 L161.25,193.04 L162.62,193.44 L164.08,193.70 L165.62,193.83 L167.22,193.81 L168.89,193.66 L170.61,193.37 L172.39,192.95 L174.20,192.39 L176.05,191.69 L177.92,190.87 L179.81,189.93 L181.71,188.86 L183.61,187.67 L185.50,186.38 L187.38,184.98 L189.24,183.47 L191.06,181.88 L192.84,180.19 L194.58,178.43 L196.27,176.59 L197.89,174.69 L199.45,172.74 L200.93,170.74 L202.32,168.69 L203.64,166.62 L204.86,164.52 L205.98,162.42 L207.00,160.30 L207.91,158.20 L208.71,156.11 L209.39,154.04 L209.96,152.00 L210.41,150.01 L210.74,148.06 L210.94,146.18 L211.02,144.35 L210.97,142.61 L210.81,140.94 L210.51,139.36 L210.10,137.88 L209.56,136.50 L208.91,135.22 L208.14,134.06 L207.26,133.02 L206.27,132.10 Z M197.13,144.46 L197.66,145.08 L198.12,145.78 L198.51,146.54 L198.83,147.37 L199.08,148.26 L199.26,149.20 L199.36,150.20 L199.39,151.25 L199.34,152.34 L199.22,153.47 L199.02,154.64 L198.75,155.84 L198.41,157.06 L198.00,158.30 L197.52,159.55 L196.97,160.81 L196.36,162.08 L195.69,163.34 L194.96,164.60 L194.17,165.84 L193.33,167.07 L192.45,168.27 L191.51,169.44 L190.54,170.58 L189.53,171.68 L188.49,172.74 L187.42,173.74 L186.33,174.70 L185.21,175.60 L184.09,176.44 L182.95,177.22 L181.81,177.93 L180.68,178.57 L179.54,179.14 L178.42,179.63 L177.31,180.05 L176.23,180.38 L175.16,180.64 L174.13,180.81 L173.13,180.90 L172.17,180.91 L171.25,180.83 L170.37,180.68 L169.55,180.44 L168.78,180.12 L168.06,179.72 L167.41,179.24 L166.81,178.69 L166.29,178.07 L165.83,177.37 L165.43,176.61 L165.11,175.78 L164.86,174.89 L164.69,173.94 L164.59,172.94 L164.56,171.90 L164.61,170.80 L164.73,169.67 L164.93,168.51 L165.19,167.31 L165.54,166.09 L165.95,164.85 L166.43,163.60 L166.97,162.33 L167.58,161.07 L168.26,159.81 L168.99,158.55 L169.77,157.31 L170.61,156.08 L171.50,154.88 L172.43,153.71 L173.40,152.57 L174.41,151.47 L175.46,150.41 L176.53,149.40 L177.62,148.45 L178.73,147.54 L179.86,146.70 L180.99,145.93 L182.13,145.22 L183.27,144.58 L184.40,144.01 L185.53,143.52 L186.63,143.10 L187.72,142.77 L188.78,142.51 L189.82,142.34 L190.82,142.25 L191.78,142.24 L192.70,142.31 L193.57,142.47 L194.40,142.71 L195.17,143.03 L195.88,143.43 L196.54,143.90 Z" fill="#161616" fill-rule="evenodd" />
<path d="M165.83,177.37 L166.29,178.07 L166.81,178.69 L167.41,179.24 L168.06,179.72 L168.78,180.12 L169.55,180.44 L170.37,180.68 L171.25,180.83 L172.17,180.91 L173.13,180.90 L174.13,180.81 L175.16,180.64 L176.23,180.38 L177.31,180.05 L178.42,179.63 L179.54,179.14 L180.68,178.57 L181.81,177.93 L182.95,177.22 L184.09,176.44 L185.21,175.60 L186.33,174.70 L187.42,173.74 L188.49,172.74 L189.53,171.68 L190.54,170.58 L191.51,169.44 L192.45,168.27 L193.33,167.07 L194.17,165.84 L194.96,164.60 L195.69,163.34 L196.36,162.08 L196.97,160.81 L197.52,159.55 L198.00,158.30 L198.41,157.06 L198.75,155.84 L199.02,154.64 L199.22,153.47 L199.34,152.34 L199.39,151.25 L199.36,150.20 L199.26,149.20 L199.08,148.26 L198.83,147.37 L198.51,146.54 L198.12,145.78 L197.66,145.08 L197.13,144.46 L196.54,143.90 L195.88,143.43 L195.17,143.03 L194.40,142.71 L193.84,142.55 L193.97,142.79 L194.29,143.62 L194.54,144.51 L194.71,145.46 L194.81,146.46 L194.84,147.50 L194.79,148.60 L194.67,149.73 L194.47,150.89 L194.21,152.09 L193.86,153.31 L193.45,154.55 L192.97,155.80 L192.43,157.07 L191.82,158.33 L191.14,159.59 L190.41,160.85 L189.63,162.09 L188.79,163.32 L187.90,164.52 L186.97,165.69 L186.00,166.83 L184.99,167.93 L183.94,168.99 L182.87,170.00 L181.78,170.95 L180.67,171.86 L179.54,172.70 L178.41,173.47 L177.27,174.18 L176.13,174.82 L175.00,175.39 L173.87,175.88 L172.77,176.30 L171.68,176.63 L170.62,176.89 L169.58,177.06 L168.58,177.15 L167.62,177.16 L166.70,177.09 L165.83,176.93 L165.56,176.85 Z" fill="#0a0a0a" fill-rule="evenodd" />
<path d="M157.67,191.05 L156.69,190.13 L155.81,189.09 L155.04,187.92 L154.38,186.65 L153.85,185.27 L153.43,183.78 L153.14,182.21 L152.97,180.54 L152.93,178.79 L153.01,176.97 L153.21,175.08 L153.54,173.14 L153.99,171.14 L154.55,169.11 L155.24,167.04 L156.04,164.95 L156.95,162.84 L157.97,160.73 L159.09,158.62 L160.31,156.53 L161.62,154.46 L163.02,152.41 L164.50,150.41 L166.06,148.45 L167.68,146.55 L169.36,144.72 L171.10,142.95 L172.89,141.27 L174.71,139.67 L176.57,138.17 L178.44,136.77 L180.34,135.47 L182.24,134.29 L184.14,133.22 L186.03,132.27 L187.90,131.45 L189.75,130.76 L191.56,130.20 L193.33,129.78 L195.06,129.49 L196.73,129.33 L198.33,129.32 L199.87,129.44 L201.32,129.71 L202.70,130.10 L203.99,130.64 L205.18,131.30 L206.27,132.10" fill="none" stroke="#2c2c2c" stroke-width="0.7"/>
<path d="M165.25,165.12 L166.36,163.77 L166.43,163.60 L166.97,162.33 L167.49,161.27 L156.25,152.01 L155.76,152.78 L154.54,154.88 L154.02,155.87 Z" fill="#343434" fill-rule="evenodd" opacity="0.8"/>
<path d="M201.25,170.12 L201.84,169.41 L202.32,168.69 L203.64,166.62 L203.73,166.47 L192.40,157.13 L191.82,158.33 L191.14,159.59 L190.41,160.85 L190.27,161.08 Z" fill="#343434" fill-rule="evenodd" opacity="0.8"/>
<path d="M230.58,157.49 L228.91,157.64 L227.19,157.93 L225.41,158.35 L223.60,158.91 L221.75,159.61 L219.88,160.43 L217.99,161.37 L216.09,162.44 L214.19,163.63 L212.30,164.92 L210.42,166.32 L208.56,167.83 L206.74,169.42 L204.96,171.11 L203.22,172.87 L201.53,174.71 L199.91,176.61 L198.35,178.56 L196.87,180.56 L195.48,182.61 L194.16,184.68 L192.94,186.78 L191.82,188.88 L190.80,191.00 L189.89,193.10 L189.09,195.19 L188.41,197.26 L187.84,199.30 L187.39,201.29 L187.06,203.24 L186.86,205.12 L186.78,206.95 L186.83,208.69 L186.99,210.36 L187.29,211.94 L187.70,213.42 L188.24,214.80 L188.89,216.08 L189.66,217.24 L190.54,218.28 L191.53,219.20 L196.07,222.95 L197.17,223.74 L198.36,224.41 L199.65,224.94 L201.02,225.34 L202.48,225.60 L204.02,225.73 L205.62,225.71 L207.29,225.56 L209.01,225.27 L210.79,224.85 L212.60,224.29 L214.45,223.59 L216.32,222.77 L218.21,221.83 L220.11,220.76 L222.01,219.57 L223.90,218.28 L225.78,216.88 L227.64,215.37 L229.46,213.78 L231.24,212.09 L232.98,210.33 L234.67,208.49 L236.29,206.59 L237.85,204.64 L239.33,202.64 L240.72,200.59 L242.04,198.52 L243.26,196.42 L244.38,194.32 L245.40,192.20 L246.31,190.10 L247.11,188.01 L247.79,185.94 L248.36,183.90 L248.81,181.91 L249.14,179.96 L249.34,178.08 L249.42,176.25 L249.37,174.51 L249.21,172.84 L248.91,171.26 L248.50,169.78 L247.96,168.40 L247.31,167.12 L246.54,165.96 L245.66,164.92 L244.67,164.00 L240.13,160.25 L239.03,159.46 L237.84,158.79 L236.55,158.26 L235.18,157.86 L233.72,157.60 L232.18,157.47 Z M203.96,208.75 L203.83,208.51 L203.51,207.68 L203.26,206.79 L203.09,205.84 L202.99,204.84 L202.96,203.80 L203.01,202.70 L203.13,201.57 L203.33,200.41 L203.59,199.21 L203.94,197.99 L204.35,196.75 L204.83,195.50 L205.37,194.23 L205.98,192.97 L206.66,191.71 L207.39,190.45 L208.17,189.21 L209.01,187.98 L209.90,186.78 L210.83,185.61 L211.80,184.47 L212.81,183.37 L213.86,182.31 L214.93,181.30 L216.02,180.35 L217.13,179.44 L218.26,178.60 L219.39,177.83 L220.53,177.12 L221.67,176.48 L222.80,175.91 L223.93,175.42 L225.03,175.00 L226.12,174.67 L227.18,174.41 L228.22,174.24 L229.22,174.15 L230.18,174.14 L231.10,174.21 L231.97,174.37 L232.24,174.45 L232.37,174.69 L232.69,175.52 L232.94,176.41 L233.11,177.36 L233.21,178.36 L233.24,179.40 L233.19,180.50 L233.07,181.63 L232.87,182.79 L232.61,183.99 L232.26,185.21 L231.85,186.45 L231.37,187.70 L230.83,188.97 L230.22,190.23 L229.54,191.49 L228.81,192.75 L228.03,193.99 L227.19,195.22 L226.30,196.42 L225.37,197.59 L224.40,198.73 L223.39,199.83 L222.34,200.89 L221.27,201.90 L220.18,202.85 L219.07,203.76 L217.94,204.60 L216.81,205.37 L215.67,206.08 L214.53,206.72 L213.40,207.29 L212.27,207.78 L211.17,208.20 L210.08,208.53 L209.02,208.79 L207.98,208.96 L206.98,209.05 L206.02,209.06 L205.10,208.99 L204.23,208.83 Z" fill="#0e0e0e" fill-rule="evenodd" />
<path d="M243.58,163.20 L242.39,162.54 L241.10,162.00 L239.72,161.61 L238.27,161.34 L236.73,161.22 L235.13,161.23 L233.46,161.39 L231.73,161.68 L229.96,162.10 L228.15,162.66 L226.30,163.35 L224.43,164.17 L222.54,165.12 L220.64,166.19 L218.74,167.37 L216.84,168.67 L214.97,170.07 L213.11,171.57 L211.29,173.17 L209.50,174.85 L207.76,176.62 L206.08,178.45 L204.46,180.35 L202.90,182.31 L201.42,184.31 L200.02,186.36 L198.71,188.43 L197.49,190.52 L196.37,192.63 L195.35,194.74 L194.44,196.85 L193.64,198.94 L192.95,201.01 L192.39,203.04 L191.94,205.04 L191.61,206.98 L191.41,208.87 L191.33,210.69 L191.37,212.44 L191.54,214.11 L191.83,215.68 L192.25,217.17 L192.78,218.55 L193.44,219.82 L194.21,220.99 L195.09,222.03 L196.07,222.95 L197.17,223.74 L198.36,224.41 L199.65,224.94 L201.02,225.34 L202.48,225.60 L204.02,225.73 L205.62,225.71 L207.29,225.56 L209.01,225.27 L210.79,224.85 L212.60,224.29 L214.45,223.59 L216.32,222.77 L218.21,221.83 L220.11,220.76 L222.01,219.57 L223.90,218.28 L225.78,216.88 L227.64,215.37 L229.46,213.78 L231.24,212.09 L232.98,210.33 L234.67,208.49 L236.29,206.59 L237.85,204.64 L239.33,202.64 L240.72,200.59 L242.04,198.52 L243.26,196.42 L244.38,194.32 L245.40,192.20 L246.31,190.10 L247.11,188.01 L247.79,185.94 L248.36,183.90 L248.81,181.91 L249.14,179.96 L249.34,178.08 L249.42,176.25 L249.37,174.51 L249.21,172.84 L248.91,171.26 L248.50,169.78 L247.96,168.40 L247.31,167.12 L246.54,165.96 L245.66,164.92 L244.67,164.00 Z M235.53,176.36 L236.06,176.98 L236.52,177.68 L236.91,178.44 L237.23,179.27 L237.48,180.16 L237.66,181.10 L237.76,182.10 L237.79,183.15 L237.74,184.24 L237.62,185.37 L237.42,186.54 L237.15,187.74 L236.81,188.96 L236.40,190.20 L235.92,191.45 L235.37,192.71 L234.76,193.98 L234.09,195.24 L233.36,196.50 L232.57,197.74 L231.73,198.97 L230.85,200.17 L229.91,201.34 L228.94,202.48 L227.93,203.58 L226.89,204.64 L225.82,205.64 L224.73,206.60 L223.61,207.50 L222.49,208.34 L221.35,209.12 L220.21,209.83 L219.08,210.47 L217.94,211.04 L216.82,211.53 L215.71,211.95 L214.63,212.28 L213.56,212.54 L212.53,212.71 L211.53,212.80 L210.57,212.81 L209.65,212.73 L208.77,212.58 L207.95,212.34 L207.18,212.02 L206.46,211.62 L205.81,211.14 L205.21,210.59 L204.69,209.97 L204.23,209.27 L203.83,208.51 L203.51,207.68 L203.26,206.79 L203.09,205.84 L202.99,204.84 L202.96,203.80 L203.01,202.70 L203.13,201.57 L203.33,200.41 L203.59,199.21 L203.94,197.99 L204.35,196.75 L204.83,195.50 L205.37,194.23 L205.98,192.97 L206.66,191.71 L207.39,190.45 L208.17,189.21 L209.01,187.98 L209.90,186.78 L210.83,185.61 L211.80,184.47 L212.81,183.37 L213.86,182.31 L214.93,181.30 L216.02,180.35 L217.13,179.44 L218.26,178.60 L219.39,177.83 L220.53,177.12 L221.67,176.48 L222.80,175.91 L223.93,175.42 L225.03,175.00 L226.12,174.67 L227.18,174.41 L228.22,174.24 L229.22,174.15 L230.18,174.14 L231.10,174.21 L231.97,174.37 L232.80,174.61 L233.57,174.93 L234.28,175.33 L234.94,175.80 Z" fill="#161616" fill-rule="evenodd" />
<path d="M204.23,209.27 L204.69,209.97 L205.21,210.59 L205.81,211.14 L206.46,211.62 L207.18,212.02 L207.95,212.34 L208.77,212.58 L209.65,212.73 L210.57,212.81 L211.53,212.80 L212.53,212.71 L213.56,212.54 L214.63,212.28 L215.71,211.95 L216.82,211.53 L217.94,211.04 L219.08,210.47 L220.21,209.83 L221.35,209.12 L222.49,208.34 L223.61,207.50 L224.73,206.60 L225.82,205.64 L226.89,204.64 L227.93,203.58 L228.94,202.48 L229.91,201.34 L230.85,200.17 L231.73,198.97 L232.57,197.74 L233.36,196.50 L234.09,195.24 L234.76,193.98 L235.37,192.71 L235.92,191.45 L236.40,190.20 L236.81,188.96 L237.15,187.74 L237.42,186.54 L237.62,185.37 L237.74,184.24 L237.79,183.15 L237.76,182.10 L237.66,181.10 L237.48,180.16 L237.23,179.27 L236.91,178.44 L236.52,177.68 L236.06,176.98 L235.53,176.36 L234.94,175.80 L234.28,175.33 L233.57,174.93 L232.80,174.61 L232.24,174.45 L232.37,174.69 L232.69,175.52 L232.94,176.41 L233.11,177.36 L233.21,178.36 L233.24,179.40 L233.19,180.50 L233.07,181.63 L232.87,182.79 L232.61,183.99 L232.26,185.21 L231.85,186.45 L231.37,187.70 L230.83,188.97 L230.22,190.23 L229.54,191.49 L228.81,192.75 L228.03,193.99 L227.19,195.22 L226.30,196.42 L225.37,197.59 L224.40,198.73 L223.39,199.83 L222.34,200.89 L221.27,201.90 L220.18,202.85 L219.07,203.76 L217.94,204.60 L216.81,205.37 L215.67,206.08 L214.53,206.72 L213.40,207.29 L212.27,207.78 L211.17,208.20 L210.08,208.53 L209.02,208.79 L207.98,208.96 L206.98,209.05 L206.02,209.06 L205.10,208.99 L204.23,208.83 L203.96,208.75 Z" fill="#0a0a0a" fill-rule="evenodd" />
<path d="M196.07,222.95 L195.09,222.03 L194.21,220.99 L193.44,219.82 L192.78,218.55 L192.25,217.17 L191.83,215.68 L191.54,214.11 L191.37,212.44 L191.33,210.69 L191.41,208.87 L191.61,206.98 L191.94,205.04 L192.39,203.04 L192.95,201.01 L193.64,198.94 L194.44,196.85 L195.35,194.74 L196.37,192.63 L197.49,190.52 L198.71,188.43 L200.02,186.36 L201.42,184.31 L202.90,182.31 L204.46,180.35 L206.08,178.45 L207.76,176.62 L209.50,174.85 L211.29,173.17 L213.11,171.57 L214.97,170.07 L216.84,168.67 L218.74,167.37 L220.64,166.19 L222.54,165.12 L224.43,164.17 L226.30,163.35 L228.15,162.66 L229.96,162.10 L231.73,161.68 L233.46,161.39 L235.13,161.23 L236.73,161.22 L238.27,161.34 L239.72,161.61 L241.10,162.00 L242.39,162.54 L243.58,163.20 L244.67,164.00" fill="none" stroke="#2c2c2c" stroke-width="0.7"/>
<path d="M203.65,197.02 L204.76,195.67 L204.83,195.50 L205.37,194.23 L205.89,193.17 L194.65,183.91 L194.16,184.68 L192.94,186.78 L192.42,187.77 Z" fill="#343434" fill-rule="evenodd" opacity="0.8"/>
<path d="M239.65,202.02 L240.24,201.31 L240.72,200.59 L242.04,198.52 L242.13,198.37 L230.80,189.03 L230.22,190.23 L229.54,191.49 L228.81,192.75 L228.67,192.98 Z" fill="#343434" fill-rule="evenodd" opacity="0.8"/>
<path d="M280.87,197.73 L279.11,198.03 L277.30,198.46 L275.45,199.03 L273.57,199.74 L271.65,200.58 L269.73,201.54 L267.79,202.63 L265.85,203.84 L263.91,205.17 L262.00,206.60 L260.10,208.13 L258.24,209.76 L256.42,211.48 L254.64,213.28 L252.92,215.16 L251.27,217.10 L249.68,219.09 L248.17,221.14 L246.74,223.22 L245.40,225.34 L244.15,227.48 L243.01,229.63 L241.97,231.79 L241.04,233.94 L240.22,236.07 L239.52,238.18 L238.94,240.26 L238.48,242.30 L238.15,244.28 L237.94,246.21 L237.86,248.07 L237.91,249.85 L238.08,251.56 L238.38,253.17 L238.80,254.68 L239.35,256.09 L240.02,257.39 L240.80,258.58 L241.70,259.64 L242.71,260.58 L247.19,264.28 L247.33,264.78 L247.91,266.28 L248.62,267.67 L249.46,268.93 L250.41,270.06 L251.49,271.06 L258.08,276.49 L258.29,276.90 L259.14,278.20 L260.12,279.36 L261.22,280.38 L278.09,294.29 L278.59,296.07 L279.23,297.73 L280.02,299.27 L280.94,300.66 L282.00,301.92 L283.20,303.03 L287.64,306.69 L288.96,307.65 L290.39,308.45 L291.94,309.10 L293.60,309.57 L295.35,309.89 L297.20,310.04 L299.14,310.02 L301.14,309.84 L303.22,309.49 L305.36,308.98 L307.54,308.30 L309.76,307.47 L312.02,306.48 L314.29,305.34 L316.58,304.06 L318.87,302.63 L321.15,301.07 L323.41,299.38 L325.64,297.57 L327.84,295.65 L329.99,293.62 L332.08,291.50 L334.11,289.29 L336.07,287.00 L337.94,284.64 L339.72,282.23 L341.41,279.77 L342.99,277.28 L344.46,274.75 L345.81,272.21 L347.03,269.67 L348.13,267.14 L349.09,264.62 L349.92,262.13 L350.60,259.68 L351.14,257.27 L351.54,254.93 L351.78,252.66 L351.88,250.47 L351.82,248.36 L351.62,246.35 L351.27,244.45 L350.77,242.67 L350.12,241.00 L349.34,239.47 L348.41,238.07 L347.35,236.81 L346.16,235.71 L341.72,232.04 L340.40,231.08 L338.96,230.28 L337.41,229.64 L335.76,229.16 L334.00,228.85 L332.16,228.70 L315.29,214.79 L314.07,213.91 L312.75,213.17 L311.32,212.58 L310.87,212.45 L304.28,207.02 L303.10,206.15 L301.80,205.43 L300.40,204.85 L298.91,204.42 L297.32,204.13 L296.81,204.09 L292.32,200.40 L291.21,199.59 L289.99,198.91 L288.68,198.36 L287.27,197.96 L285.78,197.69 L284.22,197.56 L282.58,197.58 Z" fill="url(#gold)" fill-rule="evenodd" />
<path d="M242.71,260.58 L241.51,259.44 L240.47,258.12 L239.60,256.63 L238.90,254.97 L238.38,253.17 L238.04,251.22 L237.87,249.15 L237.89,246.96 L238.10,244.67 L238.48,242.30 L239.05,239.85 L239.79,237.34 L240.70,234.79 L241.77,232.22 L243.01,229.63 L244.40,227.05 L245.92,224.49 L247.59,221.97 L249.37,219.50 L251.27,217.10 L253.26,214.78 L255.35,212.55 L257.51,210.44 L259.73,208.45 L262.00,206.60 L264.30,204.89 L266.62,203.35 L268.95,201.97 L271.27,200.76 L273.57,199.74 L275.83,198.91 L278.03,198.27 L280.18,197.83 L282.24,197.60 L284.22,197.56 L286.09,197.73 L287.84,198.10 L289.48,198.67 L290.97,199.44 L292.32,200.40" fill="none" stroke="#2a1e00" stroke-width="1.2"/>
<path d="M251.49,271.06 L250.21,269.85 L249.11,268.44 L248.18,266.85 L247.44,265.09 L246.88,263.17 L246.52,261.10 L246.34,258.90 L246.37,256.57 L246.58,254.13 L246.99,251.60 L247.59,249.00 L248.38,246.33 L249.35,243.62 L250.50,240.88 L251.81,238.12 L253.28,235.38 L254.91,232.65 L256.68,229.97 L258.58,227.34 L260.59,224.79 L262.72,222.32 L264.94,219.95 L267.23,217.70 L269.60,215.59 L272.01,213.62 L274.46,211.80 L276.94,210.15 L279.41,208.69 L281.88,207.40 L284.32,206.32 L286.73,205.43 L289.08,204.75 L291.36,204.29 L293.56,204.04 L295.66,204.00 L297.65,204.18 L299.52,204.57 L301.25,205.18 L302.85,206.00 L304.28,207.02" fill="none" stroke="#1e1600" stroke-width="2.4"/>
<path d="M253.46,272.69 L252.19,271.47 L251.08,270.07 L250.16,268.48 L249.41,266.72 L248.86,264.80 L248.49,262.73 L248.32,260.52 L248.34,258.20 L248.56,255.76 L248.97,253.23 L249.57,250.63 L250.36,247.96 L251.33,245.25 L252.47,242.51 L253.78,239.75 L255.26,237.01 L256.89,234.28 L258.65,231.60 L260.55,228.97 L262.57,226.41 L264.69,223.95 L266.91,221.58 L269.21,219.33 L271.57,217.22 L273.99,215.24 L276.44,213.43 L278.91,211.78 L281.39,210.31 L283.86,209.03 L286.30,207.95 L288.70,207.06 L291.05,206.38 L293.33,205.92 L295.53,205.66 L297.63,205.63 L299.62,205.81 L301.49,206.20 L303.23,206.81 L304.82,207.63 L306.26,208.65" fill="none" stroke="#6a5400" stroke-width="0.8"/>
<path d="M261.22,280.38 L259.92,279.14 L258.79,277.70 L257.84,276.07 L257.07,274.27 L256.50,272.30 L256.13,270.18 L255.95,267.92 L255.98,265.54 L256.20,263.04 L256.62,260.46 L257.23,257.79 L258.04,255.05 L259.03,252.28 L260.21,249.47 L261.55,246.65 L263.06,243.84 L264.73,241.05 L266.54,238.30 L268.48,235.61 L270.55,232.99 L272.72,230.46 L275.00,228.04 L277.35,225.74 L279.77,223.57 L282.24,221.55 L284.75,219.69 L287.28,218.01 L289.82,216.50 L292.35,215.19 L294.85,214.08 L297.31,213.17 L299.72,212.48 L302.05,212.00 L304.30,211.74 L306.46,211.70 L308.50,211.89 L310.41,212.29 L312.19,212.91 L313.82,213.75 L315.29,214.79" fill="none" stroke="#1e1600" stroke-width="1.6"/>
<path d="M274.56,291.37 L273.25,290.13 L272.12,288.69 L271.17,287.06 L270.41,285.26 L269.84,283.29 L269.46,281.17 L269.29,278.91 L269.31,276.53 L269.53,274.04 L269.95,271.45 L270.57,268.78 L271.37,266.05 L272.37,263.27 L273.54,260.46 L274.88,257.64 L276.40,254.83 L278.06,252.04 L279.87,249.29 L281.82,246.60 L283.88,243.98 L286.06,241.45 L288.33,239.03 L290.68,236.73 L293.10,234.56 L295.58,232.54 L298.09,230.69 L300.62,229.00 L303.15,227.49 L305.68,226.18 L308.18,225.07 L310.65,224.16 L313.05,223.47 L315.39,222.99 L317.64,222.73 L319.79,222.70 L321.83,222.88 L323.74,223.28 L325.52,223.91 L327.15,224.74 L328.62,225.79" fill="none" stroke="#1e1600" stroke-width="2.0"/>
<path d="M283.20,303.03 L281.78,301.68 L280.56,300.12 L279.53,298.36 L278.70,296.41 L278.09,294.28 L277.68,291.99 L277.49,289.54 L277.52,286.96 L277.76,284.27 L278.21,281.46 L278.88,278.57 L279.75,275.62 L280.82,272.61 L282.09,269.57 L283.55,266.52 L285.18,263.48 L286.99,260.46 L288.95,257.48 L291.05,254.57 L293.29,251.74 L295.64,249.00 L298.10,246.38 L300.65,243.89 L303.27,241.54 L305.94,239.36 L308.66,237.34 L311.40,235.52 L314.15,233.89 L316.88,232.47 L319.59,231.27 L322.26,230.28 L324.86,229.53 L327.39,229.02 L329.82,228.74 L332.15,228.70 L334.36,228.90 L336.43,229.33 L338.36,230.01 L340.12,230.91 L341.72,232.04" fill="none" stroke="#1e1600" stroke-width="2.2"/>
<path d="M285.42,304.86 L284.00,303.51 L282.78,301.95 L281.75,300.19 L280.93,298.24 L280.31,296.11 L279.91,293.82 L279.72,291.38 L279.74,288.80 L279.98,286.10 L280.43,283.29 L281.10,280.41 L281.97,277.45 L283.05,274.44 L284.32,271.40 L285.77,268.35 L287.41,265.31 L289.21,262.29 L291.17,259.32 L293.27,256.40 L295.51,253.57 L297.87,250.83 L300.32,248.21 L302.87,245.72 L305.49,243.37 L308.17,241.19 L310.88,239.18 L313.62,237.35 L316.37,235.72 L319.11,234.30 L321.81,233.10 L324.48,232.12 L327.08,231.37 L329.61,230.85 L332.05,230.57 L334.38,230.53 L336.58,230.73 L338.65,231.17 L340.58,231.84 L342.34,232.74 L343.94,233.87" fill="none" stroke="#3a2c00" stroke-width="1.1"/>
<path d="M280.87,197.73 L279.11,198.03 L277.30,198.46 L275.45,199.03 L273.57,199.74 L271.65,200.58 L269.73,201.54 L267.79,202.63 L265.85,203.84 L263.91,205.17 L262.00,206.60 L260.10,208.13 L258.24,209.76 L256.42,211.48 L254.64,213.28 L252.92,215.16 L251.27,217.10 L249.68,219.09 L248.17,221.14 L246.74,223.22 L245.40,225.34 L244.15,227.48 L243.01,229.63 L241.97,231.79 L241.04,233.94 L240.22,236.07 L239.52,238.18 L238.94,240.26 L238.48,242.30 L238.15,244.28 L237.94,246.21 L237.86,248.07 L237.91,249.85 L238.08,251.56 L238.38,253.17 L238.80,254.68 L239.35,256.09 L240.02,257.39 L240.80,258.58 L241.70,259.64 L242.71,260.58 L247.19,264.28 L247.33,264.78 L247.91,266.28 L248.62,267.67 L249.46,268.93 L250.41,270.06 L251.49,271.06 L258.08,276.49 L258.29,276.90 L259.14,278.20 L260.12,279.36 L261.22,280.38 L278.09,294.29 L278.59,296.07 L279.23,297.73 L280.02,299.27 L280.94,300.66 L282.00,301.92 L283.20,303.03 L287.64,306.69 L288.96,307.65 L290.39,308.45 L291.94,309.10 L293.60,309.57 L295.35,309.89 L297.20,310.04 L299.14,310.02 L301.14,309.84 L303.22,309.49 L305.36,308.98 L307.54,308.30 L309.76,307.47 L312.02,306.48 L314.29,305.34 L316.58,304.06 L318.87,302.63 L321.15,301.07 L323.41,299.38 L325.64,297.57 L327.84,295.65 L329.99,293.62 L332.08,291.50 L334.11,289.29 L336.07,287.00 L337.94,284.64 L339.72,282.23 L341.41,279.77 L342.99,277.28 L344.46,274.75 L345.81,272.21 L347.03,269.67 L348.13,267.14 L349.09,264.62 L349.92,262.13 L350.60,259.68 L351.14,257.27 L351.54,254.93 L351.78,252.66 L351.88,250.47 L351.82,248.36 L351.62,246.35 L351.27,244.45 L350.77,242.67 L350.12,241.00 L349.34,239.47 L348.41,238.07 L347.35,236.81 L346.16,235.71 L341.72,232.04 L340.40,231.08 L338.96,230.28 L337.41,229.64 L335.76,229.16 L334.00,228.85 L332.16,228.70 L315.29,214.79 L314.07,213.91 L312.75,213.17 L311.32,212.58 L310.87,212.45 L304.28,207.02 L303.10,206.15 L301.80,205.43 L300.40,204.85 L298.91,204.42 L297.32,204.13 L296.81,204.09 L292.32,200.40 L291.21,199.59 L289.99,198.91 L288.68,198.36 L287.27,197.96 L285.78,197.69 L284.22,197.56 L282.58,197.58 Z" fill="none" stroke="#241a00" stroke-width="1.0"/>
<path d="M346.16,235.71 L347.35,236.81 L348.41,238.07 L349.34,239.47 L350.12,241.00 L350.77,242.67 L351.27,244.45 L351.62,246.35 L351.82,248.36 L351.88,250.47 L351.78,252.66 L351.54,254.93 L351.14,257.27 L350.60,259.68 L349.92,262.13 L349.09,264.62 L348.13,267.14 L347.03,269.67 L345.81,272.21 L344.46,274.75 L342.99,277.28 L341.41,279.77 L339.72,282.23 L337.94,284.64 L336.07,287.00 L334.11,289.29 L332.08,291.50 L329.99,293.62 L327.84,295.65 L325.64,297.57 L323.41,299.38 L321.15,301.07 L318.87,302.63 L316.58,304.06 L314.29,305.34 L312.02,306.48 L309.76,307.47 L307.54,308.30 L305.36,308.98 L303.22,309.49 L301.14,309.84 L299.14,310.02 L297.20,310.04 L295.35,309.89 L293.60,309.57 L291.94,309.10 L290.39,308.45 L288.96,307.65 L287.64,306.69 L286.45,305.59 L285.39,304.33 L284.46,302.93 L283.68,301.40 L283.03,299.73 L282.53,297.95 L282.18,296.05 L281.98,294.04 L281.92,291.93 L282.02,289.74 L282.26,287.47 L282.66,285.13 L283.20,282.72 L283.88,280.27 L284.71,277.78 L285.67,275.26 L286.77,272.73 L287.99,270.19 L289.34,267.65 L290.81,265.12 L292.39,262.63 L294.08,260.17 L295.86,257.76 L297.73,255.40 L299.69,253.11 L301.72,250.90 L303.81,248.78 L305.96,246.75 L308.16,244.83 L310.39,243.02 L312.65,241.33 L314.93,239.77 L317.22,238.34 L319.51,237.06 L321.78,235.92 L324.04,234.93 L326.26,234.10 L328.44,233.42 L330.58,232.91 L332.66,232.56 L334.66,232.38 L336.60,232.36 L338.45,232.51 L340.20,232.83 L341.86,233.30 L343.41,233.95 L344.84,234.75 Z" fill="url(#face)" fill-rule="evenodd" />
<path d="M345.84,236.09 L347.38,237.59 L348.69,239.34 L349.76,241.33 L350.58,243.55 L351.14,245.99 L351.44,248.61 L351.48,251.40 L351.26,254.35 L350.77,257.43 L350.03,260.60 L349.03,263.86 L347.79,267.18 L346.31,270.53 L344.61,273.88 L342.70,277.21 L340.60,280.49 L338.31,283.71 L335.86,286.83 L333.26,289.83 L330.55,292.69 L327.72,295.38 L324.82,297.89 L321.85,300.20 L318.85,302.29 L315.83,304.14 L312.82,305.74 L309.84,307.08 L306.92,308.14 L304.07,308.92 L301.32,309.42 L298.68,309.62 L296.19,309.54 L293.85,309.16 L291.69,308.49 L289.72,307.54 L287.96,306.31 L286.42,304.81 L285.11,303.06 L284.04,301.07 L283.22,298.85 L282.66,296.41 L282.36,293.79 L282.32,291.00 L282.54,288.05 L283.03,284.97 L283.77,281.80 L284.77,278.54 L286.01,275.22 L287.49,271.87 L289.19,268.52 L291.10,265.19 L293.20,261.91 L295.49,258.69 L297.94,255.57 L300.54,252.57 L303.25,249.71 L306.08,247.02 L308.98,244.51 L311.95,242.20 L314.95,240.11 L317.97,238.26 L320.98,236.66 L323.96,235.32 L326.88,234.26 L329.73,233.48 L332.48,232.98 L335.12,232.78 L337.61,232.86 L339.95,233.24 L342.11,233.91 L344.08,234.86 L345.84,236.09 Z" fill="none" stroke="#241a00" stroke-width="1.4"/>
<path d="M344.77,239.75 L346.20,241.13 L347.41,242.74 L348.39,244.58 L349.15,246.63 L349.67,248.88 L349.94,251.30 L349.98,253.88 L349.77,256.60 L349.32,259.44 L348.64,262.37 L347.72,265.38 L346.57,268.44 L345.21,271.53 L343.64,274.63 L341.88,277.70 L339.93,280.73 L337.82,283.70 L335.56,286.58 L333.16,289.35 L330.65,291.99 L328.05,294.48 L325.37,296.79 L322.63,298.93 L319.86,300.85 L317.07,302.56 L314.29,304.04 L311.54,305.27 L308.84,306.25 L306.21,306.98 L303.67,307.43 L301.24,307.62 L298.94,307.54 L296.78,307.19 L294.79,306.58 L292.97,305.70 L291.34,304.56 L289.92,303.18 L288.71,301.56 L287.72,299.72 L286.97,297.67 L286.45,295.43 L286.17,293.01 L286.14,290.43 L286.34,287.71 L286.79,284.87 L287.48,281.93 L288.40,278.93 L289.54,275.86 L290.91,272.78 L292.48,269.68 L294.24,266.61 L296.18,263.57 L298.30,260.61 L300.56,257.73 L302.95,254.96 L305.46,252.32 L308.07,249.83 L310.75,247.51 L313.49,245.38 L316.26,243.46 L319.05,241.75 L321.82,240.27 L324.57,239.04 L327.27,238.05 L329.90,237.33 L332.44,236.87 L334.87,236.69 L337.18,236.77 L339.33,237.12 L341.33,237.73 L343.15,238.61 L344.77,239.75 Z" fill="none" stroke="#3a2c00" stroke-width="1.0"/>
<path d="M343.76,242.54 L345.09,243.83 L346.22,245.34 L347.14,247.06 L347.85,248.97 L348.33,251.07 L348.59,253.33 L348.62,255.74 L348.43,258.27 L348.01,260.92 L347.37,263.66 L346.51,266.47 L345.44,269.33 L344.17,272.21 L342.71,275.10 L341.06,277.97 L339.24,280.80 L337.27,283.57 L335.16,286.25 L332.93,288.84 L330.58,291.30 L328.15,293.62 L325.65,295.79 L323.09,297.78 L320.51,299.57 L317.91,301.17 L315.31,302.55 L312.75,303.70 L310.23,304.62 L307.77,305.29 L305.40,305.72 L303.13,305.89 L300.98,305.82 L298.97,305.49 L297.11,304.92 L295.41,304.10 L293.89,303.04 L292.57,301.75 L291.44,300.24 L290.52,298.52 L289.81,296.61 L289.33,294.51 L289.07,292.25 L289.04,289.84 L289.23,287.31 L289.65,284.66 L290.29,281.92 L291.15,279.11 L292.22,276.25 L293.49,273.37 L294.95,270.48 L296.60,267.61 L298.41,264.78 L300.38,262.01 L302.50,259.33 L304.73,256.74 L307.07,254.28 L309.51,251.96 L312.01,249.79 L314.56,247.80 L317.15,246.01 L319.75,244.41 L322.34,243.03 L324.91,241.88 L327.43,240.96 L329.89,240.29 L332.26,239.86 L334.52,239.69 L336.67,239.76 L338.69,240.09 L340.55,240.66 L342.24,241.48 L343.76,242.54 Z" fill="none" stroke="#8a7424" stroke-width="0.7"/>
<path d="M341.08,247.84 L342.21,248.94 L343.17,250.23 L343.96,251.69 L344.56,253.32 L344.97,255.11 L345.19,257.03 L345.22,259.09 L345.05,261.25 L344.70,263.51 L344.15,265.84 L343.42,268.23 L342.51,270.67 L341.42,273.12 L340.18,275.58 L338.77,278.03 L337.23,280.44 L335.55,282.80 L333.75,285.09 L331.84,287.29 L329.85,289.39 L327.78,291.37 L325.64,293.21 L323.47,294.91 L321.26,296.44 L319.05,297.80 L316.84,298.97 L314.65,299.95 L312.50,300.73 L310.41,301.31 L308.39,301.67 L306.46,301.82 L304.63,301.76 L302.91,301.48 L301.33,300.99 L299.88,300.29 L298.59,299.39 L297.46,298.29 L296.49,297.01 L295.71,295.54 L295.11,293.91 L294.70,292.13 L294.47,290.20 L294.45,288.15 L294.61,285.99 L294.97,283.73 L295.52,281.39 L296.25,279.00 L297.16,276.57 L298.24,274.11 L299.49,271.65 L300.89,269.21 L302.44,266.79 L304.12,264.43 L305.92,262.14 L307.82,259.94 L309.82,257.84 L311.89,255.87 L314.02,254.02 L316.20,252.33 L318.40,250.80 L320.62,249.44 L322.83,248.26 L325.01,247.28 L327.16,246.50 L329.25,245.93 L331.27,245.56 L333.21,245.41 L335.04,245.48 L336.75,245.75 L338.34,246.24 L339.78,246.94 L341.08,247.84 Z" fill="none" stroke="#241a00" stroke-width="1.8"/>
<path d="M339.55,249.70 L340.35,250.44 L341.07,251.29 L341.69,252.23 L342.22,253.27 L342.66,254.39 L342.99,255.59 L343.23,256.87 L343.37,258.23 L343.40,259.64 L343.34,261.12 L343.17,262.65 L342.91,264.23 L342.54,265.85 L342.08,267.50 L341.53,269.18 L340.88,270.88 L340.14,272.59 L339.31,274.30 L338.40,276.01 L337.41,277.71 L336.35,279.39 L335.21,281.05 L334.01,282.68 L332.75,284.27 L331.43,285.81 L330.06,287.30 L328.65,288.73 L327.21,290.09 L325.73,291.39 L324.22,292.61 L322.70,293.75 L321.16,294.80 L319.62,295.76 L318.08,296.63 L316.54,297.39 L315.02,298.06 L313.52,298.62 L312.05,299.08 L310.61,299.42 L309.21,299.66 L307.86,299.78 L306.56,299.79 L305.31,299.69 L304.13,299.48 L303.01,299.16 L301.97,298.72 L301.00,298.18 L300.11,297.54 L299.31,296.79 L298.60,295.94 L297.97,295.00 L297.44,293.97 L297.01,292.85 L296.67,291.64 L296.43,290.36 L296.30,289.01 L296.26,287.59 L296.33,286.11 L296.49,284.58 L296.76,283.00 L297.12,281.38 L297.58,279.73 L298.14,278.05 L298.79,276.36 L299.53,274.65 L300.35,272.93 L301.26,271.22 L302.25,269.52 L303.32,267.84 L304.45,266.18 L305.65,264.56 L306.92,262.97 L308.23,261.43 L309.60,259.94 L311.01,258.51 L312.46,257.14 L313.94,255.85 L315.44,254.63 L316.97,253.49 L318.50,252.44 L320.05,251.47 L321.59,250.61 L323.12,249.84 L324.64,249.17 L326.14,248.61 L327.61,248.16 L329.05,247.81 L330.45,247.58 L331.80,247.45 L333.11,247.44 L334.35,247.54 L335.54,247.76 L336.65,248.08 L337.70,248.51 L338.66,249.05 Z" fill="#2a2004" fill-rule="evenodd" />
<path d="M338.66,249.05 L337.70,248.51 L336.65,248.08 L335.54,247.76 L334.35,247.54 L333.11,247.44 L331.80,247.45 L330.45,247.58 L329.05,247.81 L327.61,248.16 L326.14,248.61 L324.64,249.17 L323.12,249.84 L321.59,250.61 L320.05,251.47 L318.50,252.44 L316.97,253.49 L315.44,254.63 L313.94,255.85 L312.46,257.14 L311.01,258.51 L309.60,259.94 L308.23,261.43 L306.92,262.97 L305.65,264.56 L304.45,266.18 L303.32,267.84 L302.25,269.52 L301.26,271.22 L300.35,272.93 L299.53,274.65 L298.79,276.36 L298.14,278.05 L297.58,279.73 L297.12,281.38 L296.76,283.00 L296.49,284.58 L296.33,286.11 L296.26,287.59 L296.30,289.01 L296.43,290.36 L296.67,291.64 L297.01,292.85 L297.44,293.97 L297.97,295.00 L298.60,295.94 L299.31,296.79 L299.65,297.11 L300.03,297.38 L300.99,297.92 L302.04,298.35 L303.15,298.68 L304.34,298.89 L305.58,298.99 L306.89,298.98 L308.24,298.85 L309.64,298.62 L311.08,298.27 L312.55,297.82 L314.05,297.26 L315.57,296.59 L317.10,295.82 L318.64,294.96 L320.19,294.00 L321.72,292.94 L323.25,291.81 L324.75,290.59 L326.23,289.29 L327.68,287.92 L329.09,286.49 L330.46,285.00 L331.77,283.46 L333.04,281.87 L334.24,280.25 L335.37,278.59 L336.44,276.91 L337.43,275.21 L338.34,273.50 L339.16,271.78 L339.90,270.08 L340.55,268.38 L341.11,266.70 L341.57,265.05 L341.93,263.43 L342.20,261.85 L342.37,260.32 L342.43,258.84 L342.39,257.42 L342.26,256.07 L342.02,254.79 L341.68,253.59 L341.25,252.46 L340.72,251.43 L340.09,250.49 L339.38,249.64 L339.04,249.32 Z" fill="#4a3c0a" fill-rule="evenodd" />
<path d="M333.11,247.44 L331.80,247.45 L330.45,247.58 L329.05,247.81 L327.61,248.16 L326.14,248.61 L324.64,249.17 L323.12,249.84 L321.59,250.61 L320.05,251.47 L318.50,252.44 L316.97,253.49 L315.44,254.63 L313.94,255.85 L312.46,257.14 L311.01,258.51 L309.60,259.94 L308.23,261.43 L306.92,262.97 L305.65,264.56 L304.45,266.18 L303.32,267.84 L302.25,269.52 L301.26,271.22 L300.35,272.93 L299.53,274.65 L298.79,276.36 L298.14,278.05 L297.58,279.73 L297.12,281.38 L296.76,283.00 L296.49,284.58 L296.33,286.11 L296.26,287.59 L296.30,289.01 L296.43,290.36 L296.67,291.64 L296.83,292.20 L297.35,292.99 L298.03,293.79 L298.79,294.51 L299.64,295.12 L300.56,295.63 L301.55,296.05 L302.62,296.35 L303.74,296.56 L304.93,296.65 L306.17,296.64 L307.45,296.52 L308.79,296.30 L310.16,295.97 L311.56,295.54 L312.98,295.00 L314.43,294.37 L315.89,293.64 L317.35,292.81 L318.82,291.90 L320.28,290.90 L321.73,289.82 L323.17,288.66 L324.58,287.42 L325.95,286.12 L327.30,284.76 L328.60,283.34 L329.85,281.88 L331.05,280.37 L332.20,278.82 L333.28,277.24 L334.29,275.64 L335.23,274.02 L336.10,272.39 L336.88,270.76 L337.59,269.14 L338.20,267.52 L338.73,265.92 L339.17,264.35 L339.52,262.81 L339.77,261.31 L339.93,259.85 L339.99,258.45 L339.96,257.10 L339.82,255.81 L339.60,254.59 L339.28,253.45 L338.87,252.38 L338.36,251.39 L337.77,250.50 L337.09,249.69 L336.32,248.98 L335.48,248.37 L334.56,247.85 L333.68,247.49 Z" fill="#2a2000" fill-rule="evenodd" />
<path d="M333.11,247.44 L331.80,247.45 L330.45,247.58 L329.05,247.81 L327.61,248.16 L326.14,248.61 L324.64,249.17 L323.12,249.84 L321.59,250.61 L320.05,251.47 L318.50,252.44 L316.97,253.49 L315.44,254.63 L313.94,255.85 L312.46,257.14 L311.01,258.51 L309.60,259.94 L308.23,261.43 L306.92,262.97 L305.65,264.56 L304.45,266.18 L303.32,267.84 L302.25,269.52 L301.26,271.22 L300.35,272.93 L299.53,274.65 L298.79,276.36 L298.14,278.05 L297.58,279.73 L297.12,281.38 L296.76,283.00 L296.49,284.58 L296.33,286.11 L296.26,287.59 L296.30,289.01 L296.43,290.36 L296.67,291.64 L296.72,291.83 L297.39,292.62 L298.14,293.32 L298.97,293.92 L299.87,294.43 L300.85,294.83 L301.89,295.13 L303.00,295.33 L304.17,295.43 L305.39,295.42 L306.65,295.30 L307.96,295.08 L309.31,294.76 L310.68,294.33 L312.09,293.81 L313.51,293.18 L314.94,292.47 L316.38,291.65 L317.83,290.76 L319.26,289.77 L320.69,288.71 L322.10,287.57 L323.48,286.35 L324.84,285.08 L326.16,283.74 L327.44,282.34 L328.67,280.90 L329.85,279.42 L330.97,277.90 L332.04,276.34 L333.03,274.77 L333.96,273.18 L334.81,271.58 L335.58,269.98 L336.27,268.38 L336.88,266.79 L337.40,265.22 L337.83,263.68 L338.17,262.16 L338.42,260.68 L338.58,259.25 L338.64,257.87 L338.60,256.54 L338.47,255.28 L338.25,254.08 L337.94,252.95 L337.53,251.90 L337.03,250.94 L336.45,250.05 L335.78,249.26 L335.03,248.56 L334.20,247.96 L333.30,247.46 Z" fill="#8a7618" fill-rule="evenodd" />
<path d="M331.80,247.45 L330.45,247.58 L329.05,247.81 L327.61,248.16 L326.14,248.61 L324.64,249.17 L323.12,249.84 L321.59,250.61 L320.05,251.47 L318.50,252.44 L316.97,253.49 L315.44,254.63 L313.94,255.85 L312.46,257.14 L311.01,258.51 L309.60,259.94 L308.23,261.43 L306.92,262.97 L305.65,264.56 L304.45,266.18 L303.32,267.84 L302.25,269.52 L301.26,271.22 L300.35,272.93 L299.53,274.65 L298.79,276.36 L298.14,278.05 L297.58,279.73 L297.12,281.38 L296.76,283.00 L296.49,284.58 L296.33,286.11 L296.26,287.59 L296.30,289.01 L296.43,290.36 L296.45,290.44 L296.75,290.80 L297.48,291.48 L298.28,292.06 L299.15,292.55 L300.09,292.94 L301.10,293.23 L302.17,293.42 L303.30,293.51 L304.47,293.50 L305.70,293.39 L306.96,293.18 L308.26,292.87 L309.59,292.45 L310.94,291.95 L312.31,291.35 L313.70,290.65 L315.09,289.87 L316.48,289.00 L317.87,288.05 L319.25,287.02 L320.61,285.92 L321.95,284.75 L323.25,283.52 L324.53,282.22 L325.76,280.88 L326.95,279.49 L328.09,278.05 L329.18,276.58 L330.20,275.09 L331.17,273.57 L332.06,272.03 L332.88,270.49 L333.63,268.94 L334.30,267.40 L334.88,265.86 L335.38,264.35 L335.80,262.85 L336.13,261.39 L336.37,259.97 L336.52,258.58 L336.58,257.25 L336.54,255.97 L336.42,254.75 L336.21,253.59 L335.90,252.50 L335.51,251.49 L335.03,250.56 L334.47,249.70 L333.82,248.94 L333.10,248.26 L332.30,247.68 L331.89,247.45 Z" fill="#2e2404" fill-rule="evenodd" />
<path d="M330.45,247.58 L329.05,247.81 L327.61,248.16 L326.14,248.61 L324.64,249.17 L323.12,249.84 L321.59,250.61 L320.05,251.47 L318.50,252.44 L316.97,253.49 L315.44,254.63 L313.94,255.85 L312.46,257.14 L311.01,258.51 L309.60,259.94 L308.23,261.43 L306.92,262.97 L305.65,264.56 L304.45,266.18 L303.32,267.84 L302.25,269.52 L301.26,271.22 L300.35,272.93 L299.53,274.65 L298.79,276.36 L298.14,278.05 L297.58,279.73 L297.12,281.38 L296.76,283.00 L296.49,284.58 L296.33,286.11 L296.26,287.59 L296.30,289.01 L296.39,289.92 L296.49,290.02 L297.28,290.59 L298.14,291.07 L299.07,291.45 L300.06,291.74 L301.11,291.93 L302.21,292.02 L303.37,292.01 L304.57,291.90 L305.81,291.69 L307.09,291.38 L308.39,290.98 L309.72,290.48 L311.07,289.89 L312.43,289.21 L313.80,288.44 L315.16,287.59 L316.53,286.66 L317.88,285.65 L319.21,284.56 L320.53,283.41 L321.81,282.20 L323.06,280.93 L324.28,279.61 L325.45,278.24 L326.57,276.84 L327.63,275.39 L328.64,273.92 L329.58,272.43 L330.46,270.92 L331.27,269.41 L332.00,267.89 L332.66,266.37 L333.23,264.86 L333.73,263.37 L334.14,261.91 L334.46,260.47 L334.69,259.07 L334.84,257.71 L334.90,256.40 L334.87,255.14 L334.74,253.95 L334.53,252.81 L334.23,251.74 L333.85,250.75 L333.38,249.83 L332.83,248.99 L332.19,248.24 L331.48,247.58 L331.36,247.49 Z" fill="#d8c430" fill-rule="evenodd" />
<path d="M329.05,247.81 L327.61,248.16 L326.14,248.61 L324.64,249.17 L323.12,249.84 L321.59,250.61 L320.05,251.47 L318.50,252.44 L316.97,253.49 L315.44,254.63 L313.94,255.85 L312.46,257.14 L311.01,258.51 L309.60,259.94 L308.23,261.43 L306.92,262.97 L305.65,264.56 L304.45,266.18 L303.32,267.84 L302.25,269.52 L301.26,271.22 L300.35,272.93 L299.53,274.65 L298.79,276.36 L298.14,278.05 L297.58,279.73 L297.12,281.38 L296.76,283.00 L296.49,284.58 L296.33,286.11 L296.26,287.59 L296.28,288.38 L296.77,288.65 L297.66,289.02 L298.61,289.30 L299.63,289.48 L300.69,289.57 L301.80,289.56 L302.96,289.45 L304.16,289.25 L305.39,288.96 L306.65,288.57 L307.93,288.09 L309.23,287.52 L310.54,286.86 L311.86,286.12 L313.17,285.30 L314.49,284.40 L315.79,283.43 L317.08,282.38 L318.34,281.28 L319.58,280.11 L320.79,278.89 L321.95,277.61 L323.08,276.29 L324.16,274.94 L325.19,273.55 L326.16,272.13 L327.07,270.69 L327.91,269.24 L328.69,267.78 L329.40,266.31 L330.03,264.85 L330.58,263.40 L331.06,261.97 L331.45,260.55 L331.77,259.17 L331.99,257.82 L332.13,256.51 L332.19,255.25 L332.16,254.04 L332.04,252.88 L331.84,251.78 L331.55,250.76 L331.18,249.80 L330.73,248.91 L330.19,248.11 L329.83,247.68 Z" fill="#3a2e06" fill-rule="evenodd" />
<path d="M327.61,248.16 L326.14,248.61 L324.64,249.17 L323.12,249.84 L321.59,250.61 L320.05,251.47 L318.50,252.44 L316.97,253.49 L315.44,254.63 L313.94,255.85 L312.46,257.14 L311.01,258.51 L309.60,259.94 L308.23,261.43 L306.92,262.97 L305.65,264.56 L304.45,266.18 L303.32,267.84 L302.25,269.52 L301.26,271.22 L300.35,272.93 L299.53,274.65 L298.79,276.36 L298.14,278.05 L297.58,279.73 L297.12,281.38 L296.76,283.00 L296.49,284.58 L296.33,286.11 L296.26,287.52 L296.96,287.81 L297.89,288.08 L298.89,288.26 L299.93,288.34 L301.02,288.33 L302.16,288.23 L303.33,288.03 L304.54,287.74 L305.77,287.36 L307.03,286.89 L308.31,286.33 L309.59,285.69 L310.88,284.96 L312.18,284.15 L313.47,283.27 L314.74,282.32 L316.01,281.30 L317.25,280.21 L318.46,279.06 L319.65,277.86 L320.79,276.61 L321.90,275.32 L322.96,273.99 L323.96,272.63 L324.92,271.23 L325.81,269.82 L326.64,268.40 L327.40,266.96 L328.10,265.53 L328.72,264.09 L329.26,262.67 L329.73,261.26 L330.11,259.88 L330.42,258.52 L330.64,257.19 L330.78,255.91 L330.83,254.67 L330.80,253.48 L330.69,252.35 L330.49,251.27 L330.21,250.26 L329.84,249.32 L329.40,248.46 L328.98,247.83 Z" fill="#e8d838" fill-rule="evenodd" />
<path d="M326.14,248.61 L324.64,249.17 L323.12,249.84 L321.59,250.61 L320.05,251.47 L318.50,252.44 L316.97,253.49 L315.44,254.63 L313.94,255.85 L312.46,257.14 L311.01,258.51 L309.60,259.94 L308.23,261.43 L306.92,262.97 L305.65,264.56 L304.45,266.18 L303.32,267.84 L302.25,269.52 L301.26,271.22 L300.35,272.93 L299.53,274.65 L298.79,276.36 L298.14,278.05 L297.58,279.73 L297.12,281.38 L296.76,283.00 L296.49,284.58 L296.40,285.42 L297.08,285.54 L298.09,285.62 L299.14,285.62 L300.23,285.52 L301.36,285.33 L302.52,285.05 L303.70,284.68 L304.91,284.23 L306.14,283.69 L307.38,283.07 L308.62,282.37 L309.86,281.60 L311.10,280.75 L312.33,279.83 L313.54,278.85 L314.74,277.80 L315.91,276.70 L317.04,275.55 L318.15,274.35 L319.21,273.10 L320.23,271.82 L321.19,270.51 L322.11,269.17 L322.97,267.82 L323.77,266.45 L324.50,265.07 L325.17,263.69 L325.76,262.31 L326.29,260.94 L326.74,259.59 L327.11,258.25 L327.40,256.95 L327.62,255.67 L327.75,254.44 L327.80,253.25 L327.77,252.10 L327.66,251.01 L327.47,249.98 L327.20,249.01 L326.95,248.36 Z" fill="#2a2000" fill-rule="evenodd" />
<path d="M324.64,249.17 L323.12,249.84 L321.59,250.61 L320.05,251.47 L318.50,252.44 L316.97,253.49 L315.44,254.63 L313.94,255.85 L312.46,257.14 L311.01,258.51 L309.60,259.94 L308.23,261.43 L306.92,262.97 L305.65,264.56 L304.45,266.18 L303.32,267.84 L302.25,269.52 L301.26,271.22 L300.35,272.93 L299.53,274.65 L298.79,276.36 L298.14,278.05 L297.58,279.73 L297.12,281.38 L296.76,283.00 L296.53,284.33 L297.33,284.40 L298.36,284.39 L299.43,284.29 L300.53,284.11 L301.67,283.83 L302.83,283.47 L304.02,283.03 L305.22,282.50 L306.43,281.90 L307.65,281.21 L308.87,280.45 L310.08,279.62 L311.29,278.72 L312.47,277.76 L313.64,276.73 L314.79,275.65 L315.90,274.52 L316.98,273.35 L318.03,272.13 L319.02,270.87 L319.97,269.59 L320.87,268.28 L321.71,266.95 L322.49,265.60 L323.21,264.25 L323.87,262.90 L324.45,261.55 L324.96,260.21 L325.40,258.88 L325.77,257.58 L326.06,256.30 L326.26,255.05 L326.40,253.84 L326.45,252.67 L326.42,251.55 L326.31,250.48 L326.12,249.47 L325.91,248.70 Z" fill="#b8a024" fill-rule="evenodd" />
<path d="M323.12,249.84 L321.59,250.61 L320.05,251.47 L318.50,252.44 L316.97,253.49 L315.44,254.63 L313.94,255.85 L312.46,257.14 L311.01,258.51 L309.60,259.94 L308.23,261.43 L306.92,262.97 L305.65,264.56 L304.45,266.18 L303.32,267.84 L302.25,269.52 L301.26,271.22 L300.35,272.93 L299.53,274.65 L298.79,276.36 L298.14,278.05 L297.58,279.73 L297.12,281.38 L297.07,281.62 L297.50,281.58 L298.56,281.40 L299.65,281.14 L300.76,280.79 L301.90,280.37 L303.05,279.86 L304.21,279.28 L305.38,278.62 L306.55,277.90 L307.72,277.10 L308.87,276.24 L310.01,275.31 L311.13,274.33 L312.23,273.29 L313.30,272.21 L314.34,271.08 L315.34,269.91 L316.29,268.71 L317.20,267.47 L318.06,266.22 L318.87,264.94 L319.62,263.65 L320.31,262.36 L320.94,261.06 L321.50,259.76 L321.99,258.48 L322.41,257.20 L322.76,255.95 L323.04,254.72 L323.24,253.53 L323.36,252.37 L323.41,251.25 L323.39,250.17 L323.34,249.74 Z" fill="#3a2e08" fill-rule="evenodd" />
<path d="M320.05,251.47 L318.50,252.44 L316.97,253.49 L315.44,254.63 L313.94,255.85 L312.46,257.14 L311.01,258.51 L309.60,259.94 L308.23,261.43 L306.92,262.97 L305.65,264.56 L304.45,266.18 L303.32,267.84 L302.25,269.52 L301.26,271.22 L300.35,272.93 L299.53,274.65 L298.79,276.36 L298.14,278.05 L298.05,278.32 L298.27,278.25 L299.38,277.83 L300.51,277.34 L301.64,276.77 L302.79,276.13 L303.93,275.41 L305.07,274.63 L306.20,273.79 L307.32,272.88 L308.42,271.92 L309.49,270.91 L310.54,269.85 L311.55,268.74 L312.53,267.60 L313.47,266.42 L314.36,265.21 L315.20,263.98 L315.99,262.74 L316.72,261.47 L317.40,260.20 L318.01,258.93 L318.56,257.67 L319.04,256.41 L319.46,255.16 L319.80,253.94 L320.07,252.73 L320.26,251.56 L320.29,251.34 Z" fill="#6a5814" fill-rule="evenodd" />
<path d="M312.46,257.14 L311.01,258.51 L309.60,259.94 L308.23,261.43 L306.92,262.97 L305.65,264.56 L304.45,266.18 L303.32,267.84 L302.25,269.52 L301.50,270.82 L302.23,270.27 L303.33,269.38 L304.40,268.44 L305.45,267.45 L306.48,266.41 L307.47,265.33 L308.43,264.21 L309.34,263.06 L310.21,261.88 L311.04,260.68 L311.81,259.46 L312.53,258.22 L313.19,256.98 L313.59,256.15 Z" fill="#3e320a" fill-rule="evenodd" />
<ellipse cx="311.5" cy="231" rx="2.5" ry="2.0" fill="#1a1200"/>
<ellipse cx="275.9" cy="273.7" rx="1.4" ry="1.3" fill="#f8f0c0"/>
<path d="M371.27,274.84 L370.12,274.18 L368.89,273.63 L367.57,273.21 L366.19,272.91 L364.73,272.73 L363.22,272.68 L361.65,272.76 L360.04,272.96 L358.38,273.29 L356.69,273.74 L354.97,274.31 L353.24,275.00 L351.49,275.80 L349.74,276.72 L347.99,277.75 L346.26,278.88 L344.54,280.11 L342.85,281.43 L341.19,282.84 L339.57,284.34 L338.00,285.91 L336.48,287.55 L335.02,289.25 L333.63,291.00 L332.31,292.81 L331.07,294.65 L329.91,296.52 L328.84,298.42 L327.86,300.34 L326.98,302.26 L326.21,304.18 L325.53,306.09 L324.97,307.98 L324.51,309.85 L324.16,311.68 L323.93,313.48 L323.81,315.22 L323.81,316.91 L323.92,318.54 L324.14,320.09 L324.48,321.57 L324.93,322.96 L325.49,324.26 L326.15,325.47 L326.92,326.58 L327.80,327.58 L328.76,328.48 L329.83,329.26 L330.98,329.92 L332.21,330.47 L333.53,330.89 L334.91,331.19 L336.37,331.37 L337.88,331.42 L339.45,331.34 L341.06,331.14 L342.72,330.81 L344.41,330.36 L346.13,329.79 L347.86,329.10 L349.61,328.30 L351.36,327.38 L353.11,326.35 L354.84,325.22 L356.56,323.99 L358.25,322.67 L359.91,321.26 L361.53,319.76 L363.10,318.19 L364.62,316.55 L366.08,314.85 L367.47,313.10 L368.79,311.29 L370.03,309.45 L371.19,307.58 L372.26,305.68 L373.24,303.76 L374.12,301.84 L374.89,299.92 L375.57,298.01 L376.13,296.12 L376.59,294.25 L376.94,292.42 L377.17,290.62 L377.29,288.88 L377.29,287.19 L377.18,285.56 L376.96,284.01 L376.62,282.53 L376.17,281.14 L375.61,279.84 L374.95,278.63 L374.18,277.52 L373.30,276.52 L372.34,275.62 Z M368.44,281.69 L368.98,282.36 L369.45,283.12 L369.83,283.96 L370.13,284.88 L370.35,285.87 L370.48,286.93 L370.53,288.05 L370.49,289.23 L370.37,290.47 L370.16,291.76 L369.87,293.10 L369.49,294.47 L369.04,295.87 L368.50,297.30 L367.89,298.75 L367.20,300.22 L366.45,301.69 L365.62,303.16 L364.73,304.63 L363.78,306.09 L362.77,307.53 L361.71,308.95 L360.60,310.34 L359.45,311.69 L358.26,313.00 L357.04,314.26 L355.79,315.48 L354.52,316.63 L353.23,317.72 L351.93,318.75 L350.62,319.70 L349.31,320.58 L348.01,321.38 L346.72,322.09 L345.45,322.72 L344.19,323.26 L342.97,323.72 L341.78,324.07 L340.62,324.34 L339.51,324.50 L338.44,324.58 L337.43,324.55 L336.47,324.43 L335.57,324.21 L334.74,323.90 L333.97,323.50 L333.28,323.00 L332.66,322.41 L332.12,321.74 L331.65,320.98 L331.27,320.14 L330.97,319.22 L330.75,318.23 L330.62,317.17 L330.57,316.05 L330.61,314.87 L330.73,313.63 L330.94,312.34 L331.23,311.00 L331.61,309.63 L332.06,308.23 L332.60,306.80 L333.21,305.35 L333.90,303.88 L334.65,302.41 L335.48,300.94 L336.37,299.47 L337.32,298.01 L338.33,296.57 L339.39,295.15 L340.50,293.76 L341.65,292.41 L342.84,291.10 L344.06,289.84 L345.31,288.62 L346.58,287.47 L347.87,286.38 L349.17,285.35 L350.48,284.40 L351.79,283.52 L353.09,282.72 L354.38,282.01 L355.65,281.38 L356.91,280.84 L358.13,280.38 L359.32,280.03 L360.48,279.76 L361.59,279.60 L362.66,279.52 L363.67,279.55 L364.63,279.67 L365.53,279.89 L366.36,280.20 L367.13,280.60 L367.82,281.10 Z" fill="#0c0c0c" fill-rule="evenodd" />
<path d="M398.55,295.04 L397.29,294.30 L395.94,293.69 L394.51,293.21 L393.00,292.86 L391.42,292.64 L389.77,292.56 L388.07,292.61 L386.33,292.80 L384.53,293.12 L382.71,293.57 L380.86,294.15 L378.99,294.86 L377.11,295.69 L375.23,296.65 L373.35,297.72 L371.49,298.90 L369.65,300.19 L367.84,301.59 L366.07,303.08 L364.34,304.65 L362.67,306.31 L361.05,308.05 L359.50,309.86 L358.03,311.72 L356.63,313.64 L355.32,315.60 L354.10,317.59 L352.98,319.62 L351.95,321.66 L351.04,323.71 L350.23,325.77 L349.54,327.81 L348.96,329.84 L348.50,331.85 L348.16,333.82 L347.94,335.74 L347.85,337.62 L347.88,339.44 L348.03,341.19 L348.30,342.87 L348.70,344.47 L349.21,345.98 L349.84,347.39 L350.59,348.71 L351.44,349.92 L352.41,351.02 L353.48,352.00 L354.65,352.86 L355.91,353.60 L357.26,354.21 L358.69,354.69 L360.20,355.04 L361.78,355.26 L363.43,355.34 L365.13,355.29 L366.87,355.10 L368.67,354.78 L370.49,354.33 L372.34,353.75 L374.21,353.04 L376.09,352.21 L377.97,351.25 L379.85,350.18 L381.71,349.00 L383.55,347.71 L385.36,346.31 L387.13,344.82 L388.86,343.25 L390.53,341.59 L392.15,339.85 L393.70,338.04 L395.17,336.18 L396.57,334.26 L397.88,332.30 L399.10,330.31 L400.22,328.28 L401.25,326.24 L402.16,324.19 L402.97,322.13 L403.66,320.09 L404.24,318.06 L404.70,316.05 L405.04,314.08 L405.26,312.16 L405.35,310.28 L405.32,308.46 L405.17,306.71 L404.90,305.03 L404.50,303.43 L403.99,301.92 L403.36,300.51 L402.61,299.19 L401.76,297.98 L400.79,296.88 L399.72,295.90 Z M393.25,304.90 L393.71,305.48 L394.09,306.15 L394.40,306.89 L394.64,307.71 L394.79,308.59 L394.87,309.55 L394.87,310.56 L394.79,311.63 L394.63,312.75 L394.40,313.92 L394.09,315.14 L393.71,316.39 L393.25,317.67 L392.72,318.98 L392.12,320.32 L391.45,321.66 L390.73,323.02 L389.94,324.38 L389.09,325.74 L388.19,327.10 L387.24,328.43 L386.25,329.75 L385.21,331.05 L384.14,332.31 L383.03,333.54 L381.90,334.73 L380.74,335.87 L379.57,336.96 L378.38,337.99 L377.19,338.97 L375.99,339.88 L374.80,340.72 L373.62,341.49 L372.44,342.18 L371.29,342.80 L370.15,343.34 L369.05,343.79 L367.98,344.16 L366.94,344.44 L365.95,344.63 L365.00,344.74 L364.10,344.75 L363.25,344.68 L362.47,344.52 L361.74,344.27 L361.07,343.93 L360.48,343.51 L359.95,343.00 L359.49,342.42 L359.11,341.75 L358.80,341.01 L358.56,340.19 L358.41,339.31 L358.33,338.35 L358.33,337.34 L358.41,336.27 L358.57,335.15 L358.80,333.98 L359.11,332.76 L359.49,331.51 L359.95,330.23 L360.48,328.92 L361.08,327.58 L361.75,326.24 L362.47,324.88 L363.26,323.52 L364.11,322.16 L365.01,320.80 L365.96,319.47 L366.95,318.15 L367.99,316.85 L369.06,315.59 L370.17,314.36 L371.30,313.17 L372.46,312.03 L373.63,310.94 L374.82,309.91 L376.01,308.93 L377.21,308.02 L378.40,307.18 L379.58,306.41 L380.76,305.72 L381.91,305.10 L383.05,304.56 L384.15,304.11 L385.22,303.74 L386.26,303.46 L387.25,303.27 L388.20,303.16 L389.10,303.15 L389.95,303.22 L390.73,303.38 L391.46,303.63 L392.13,303.97 L392.72,304.39 Z" fill="#0c0c0c" fill-rule="evenodd" />
<path d="M426.95,321.72 L425.86,321.10 L424.69,320.59 L423.45,320.21 L422.13,319.93 L420.75,319.78 L419.31,319.75 L417.81,319.85 L416.27,320.06 L414.69,320.39 L413.07,320.84 L411.43,321.40 L409.77,322.08 L408.10,322.87 L406.42,323.77 L404.75,324.78 L403.08,325.88 L401.43,327.07 L399.80,328.36 L398.20,329.73 L396.64,331.18 L395.13,332.70 L393.66,334.28 L392.26,335.93 L390.91,337.62 L389.63,339.37 L388.43,341.14 L387.31,342.95 L386.27,344.78 L385.31,346.62 L384.45,348.47 L383.69,350.32 L383.03,352.15 L382.47,353.97 L382.01,355.76 L381.66,357.52 L381.42,359.24 L381.28,360.91 L381.26,362.53 L381.34,364.08 L381.54,365.57 L381.84,366.98 L382.26,368.31 L382.77,369.55 L383.39,370.69 L384.11,371.75 L384.93,372.70 L385.85,373.54 L386.85,374.28 L387.94,374.90 L389.11,375.41 L390.35,375.79 L391.67,376.07 L393.05,376.22 L394.49,376.25 L395.99,376.15 L397.53,375.94 L399.11,375.61 L400.73,375.16 L402.37,374.60 L404.03,373.92 L405.70,373.13 L407.38,372.23 L409.05,371.22 L410.72,370.12 L412.37,368.93 L414.00,367.64 L415.60,366.27 L417.16,364.82 L418.67,363.30 L420.14,361.72 L421.54,360.07 L422.89,358.38 L424.17,356.63 L425.37,354.86 L426.49,353.05 L427.53,351.22 L428.49,349.38 L429.35,347.53 L430.11,345.68 L430.77,343.85 L431.33,342.03 L431.79,340.24 L432.14,338.48 L432.38,336.76 L432.52,335.09 L432.54,333.47 L432.46,331.92 L432.26,330.43 L431.96,329.02 L431.54,327.69 L431.03,326.45 L430.41,325.31 L429.69,324.25 L428.87,323.30 L427.95,322.46 Z M425.58,326.80 L426.17,327.53 L426.69,328.34 L427.12,329.24 L427.46,330.22 L427.72,331.28 L427.88,332.40 L427.96,333.60 L427.95,334.85 L427.84,336.17 L427.65,337.53 L427.36,338.94 L426.99,340.38 L426.54,341.86 L426.00,343.37 L425.37,344.89 L424.67,346.43 L423.90,347.98 L423.05,349.52 L422.13,351.06 L421.14,352.58 L420.10,354.09 L418.99,355.57 L417.84,357.02 L416.64,358.43 L415.40,359.79 L414.12,361.11 L412.81,362.36 L411.47,363.56 L410.12,364.69 L408.75,365.75 L407.37,366.73 L406.00,367.63 L404.62,368.45 L403.26,369.18 L401.91,369.82 L400.58,370.36 L399.28,370.81 L398.01,371.17 L396.78,371.42 L395.59,371.57 L394.46,371.63 L393.37,371.58 L392.34,371.43 L391.38,371.18 L390.48,370.83 L389.65,370.38 L388.90,369.84 L388.22,369.20 L387.63,368.47 L387.11,367.66 L386.68,366.76 L386.34,365.78 L386.08,364.72 L385.92,363.60 L385.84,362.40 L385.85,361.15 L385.96,359.83 L386.15,358.47 L386.44,357.06 L386.81,355.62 L387.26,354.14 L387.80,352.63 L388.43,351.11 L389.13,349.57 L389.90,348.02 L390.75,346.48 L391.67,344.94 L392.66,343.42 L393.70,341.91 L394.81,340.43 L395.96,338.98 L397.16,337.57 L398.40,336.21 L399.68,334.89 L400.99,333.64 L402.33,332.44 L403.68,331.31 L405.05,330.25 L406.43,329.27 L407.80,328.37 L409.18,327.55 L410.54,326.82 L411.89,326.18 L413.22,325.64 L414.52,325.19 L415.79,324.83 L417.02,324.58 L418.21,324.43 L419.34,324.37 L420.43,324.42 L421.46,324.57 L422.42,324.82 L423.32,325.17 L424.15,325.62 L424.90,326.16 Z" fill="#3a3a3a" fill-rule="evenodd" />
<path d="M426.54,322.29 L425.49,321.70 L424.36,321.21 L423.16,320.84 L421.88,320.59 L420.54,320.45 L419.15,320.44 L417.70,320.54 L416.20,320.75 L414.66,321.09 L413.10,321.54 L411.50,322.10 L409.88,322.77 L408.26,323.56 L406.62,324.44 L404.99,325.43 L403.37,326.52 L401.76,327.69 L400.17,328.95 L398.61,330.30 L397.09,331.72 L395.61,333.21 L394.17,334.76 L392.80,336.37 L391.48,338.03 L390.23,339.74 L389.05,341.47 L387.94,343.24 L386.92,345.03 L385.98,346.83 L385.14,348.63 L384.38,350.43 L383.72,352.22 L383.16,354.00 L382.71,355.74 L382.35,357.46 L382.11,359.13 L381.96,360.76 L381.93,362.33 L382.00,363.84 L382.18,365.28 L382.46,366.65 L382.85,367.94 L383.34,369.14 L383.94,370.25 L384.63,371.27 L385.41,372.19 L386.29,373.00 L387.26,373.71 L388.31,374.30 L389.44,374.79 L390.64,375.16 L391.92,375.41 L393.26,375.55 L394.65,375.56 L396.10,375.46 L397.60,375.25 L399.14,374.91 L400.70,374.46 L402.30,373.90 L403.92,373.23 L405.54,372.44 L407.18,371.56 L408.81,370.57 L410.43,369.48 L412.04,368.31 L413.63,367.05 L415.19,365.70 L416.71,364.28 L418.19,362.79 L419.63,361.24 L421.00,359.63 L422.32,357.97 L423.57,356.26 L424.75,354.53 L425.86,352.76 L426.88,350.97 L427.82,349.17 L428.66,347.37 L429.42,345.57 L430.08,343.78 L430.64,342.00 L431.09,340.26 L431.45,338.54 L431.69,336.87 L431.84,335.24 L431.87,333.67 L431.80,332.16 L431.62,330.72 L431.34,329.35 L430.95,328.06 L430.46,326.86 L429.86,325.75 L429.17,324.73 L428.39,323.81 L427.51,323.00 Z M426.06,326.29 L426.69,327.05 L427.23,327.90 L427.69,328.83 L428.06,329.85 L428.34,330.95 L428.52,332.12 L428.62,333.35 L428.62,334.65 L428.52,336.01 L428.34,337.42 L428.06,338.87 L427.69,340.36 L427.24,341.89 L426.69,343.44 L426.07,345.01 L425.35,346.59 L424.57,348.18 L423.70,349.77 L422.76,351.35 L421.76,352.92 L420.69,354.46 L419.56,355.98 L418.38,357.46 L417.15,358.91 L415.87,360.30 L414.56,361.65 L413.21,362.93 L411.84,364.15 L410.45,365.31 L409.04,366.38 L407.62,367.38 L406.20,368.30 L404.78,369.13 L403.37,369.87 L401.97,370.51 L400.60,371.06 L399.25,371.51 L397.94,371.86 L396.67,372.11 L395.43,372.26 L394.25,372.30 L393.12,372.23 L392.05,372.06 L391.05,371.79 L390.11,371.42 L389.24,370.95 L388.45,370.38 L387.74,369.71 L387.11,368.95 L386.57,368.10 L386.11,367.17 L385.74,366.15 L385.46,365.05 L385.28,363.88 L385.18,362.65 L385.18,361.35 L385.28,359.99 L385.46,358.58 L385.74,357.13 L386.11,355.64 L386.56,354.11 L387.11,352.56 L387.73,350.99 L388.45,349.41 L389.23,347.82 L390.10,346.23 L391.04,344.65 L392.04,343.08 L393.11,341.54 L394.24,340.02 L395.42,338.54 L396.65,337.09 L397.93,335.70 L399.24,334.35 L400.59,333.07 L401.96,331.85 L403.35,330.69 L404.76,329.62 L406.18,328.62 L407.60,327.70 L409.02,326.87 L410.43,326.13 L411.83,325.49 L413.20,324.94 L414.55,324.49 L415.86,324.14 L417.13,323.89 L418.37,323.74 L419.55,323.70 L420.68,323.77 L421.75,323.94 L422.75,324.21 L423.69,324.58 L424.56,325.05 L425.35,325.62 Z" fill="#9a9a9a" fill-rule="evenodd" />
<path d="M425.95,323.10 L424.95,322.54 L423.87,322.08 L422.72,321.74 L421.50,321.51 L420.22,321.39 L418.89,321.38 L417.50,321.49 L416.06,321.72 L414.59,322.05 L413.08,322.50 L411.55,323.05 L409.99,323.72 L408.43,324.48 L406.85,325.35 L405.28,326.32 L403.71,327.37 L402.16,328.52 L400.63,329.75 L399.12,331.06 L397.65,332.44 L396.22,333.88 L394.83,335.39 L393.50,336.95 L392.22,338.56 L391.00,340.21 L389.86,341.89 L388.78,343.60 L387.79,345.33 L386.87,347.06 L386.05,348.81 L385.31,350.55 L384.66,352.27 L384.11,353.98 L383.65,355.67 L383.30,357.32 L383.05,358.93 L382.90,360.50 L382.85,362.01 L382.90,363.46 L383.06,364.84 L383.32,366.16 L383.68,367.39 L384.14,368.54 L384.70,369.61 L385.35,370.58 L386.09,371.45 L386.93,372.23 L387.85,372.90 L388.85,373.46 L389.93,373.92 L391.08,374.26 L392.30,374.49 L393.58,374.61 L394.91,374.62 L396.30,374.51 L397.74,374.28 L399.21,373.95 L400.72,373.50 L402.25,372.95 L403.81,372.28 L405.37,371.52 L406.95,370.65 L408.52,369.68 L410.09,368.63 L411.64,367.48 L413.17,366.25 L414.68,364.94 L416.15,363.56 L417.58,362.12 L418.97,360.61 L420.30,359.05 L421.58,357.44 L422.80,355.79 L423.94,354.11 L425.02,352.40 L426.01,350.67 L426.93,348.94 L427.75,347.19 L428.49,345.45 L429.14,343.73 L429.69,342.02 L430.15,340.33 L430.50,338.68 L430.75,337.07 L430.90,335.50 L430.95,333.99 L430.90,332.54 L430.74,331.16 L430.48,329.84 L430.12,328.61 L429.66,327.46 L429.10,326.39 L428.45,325.42 L427.71,324.55 L426.87,323.77 Z M426.47,325.86 L427.14,326.65 L427.71,327.53 L428.20,328.50 L428.59,329.56 L428.89,330.69 L429.10,331.90 L429.21,333.17 L429.23,334.51 L429.15,335.91 L428.98,337.36 L428.71,338.85 L428.35,340.39 L427.89,341.95 L427.35,343.55 L426.72,345.16 L426.00,346.78 L425.20,348.41 L424.33,350.04 L423.38,351.65 L422.36,353.26 L421.27,354.84 L420.12,356.39 L418.91,357.90 L417.66,359.38 L416.35,360.80 L415.01,362.17 L413.63,363.48 L412.22,364.72 L410.79,365.89 L409.35,366.98 L407.89,368.00 L406.43,368.92 L404.97,369.76 L403.52,370.51 L402.08,371.15 L400.67,371.70 L399.28,372.15 L397.92,372.49 L396.60,372.73 L395.33,372.86 L394.10,372.89 L392.93,372.81 L391.82,372.63 L390.78,372.33 L389.80,371.94 L388.90,371.44 L388.07,370.84 L387.33,370.14 L386.66,369.35 L386.09,368.47 L385.60,367.50 L385.21,366.44 L384.91,365.31 L384.70,364.10 L384.59,362.83 L384.57,361.49 L384.65,360.09 L384.82,358.64 L385.09,357.15 L385.45,355.61 L385.91,354.05 L386.45,352.45 L387.08,350.84 L387.80,349.22 L388.60,347.59 L389.47,345.96 L390.42,344.35 L391.44,342.74 L392.53,341.16 L393.68,339.61 L394.89,338.10 L396.14,336.62 L397.45,335.20 L398.79,333.83 L400.17,332.52 L401.58,331.28 L403.01,330.11 L404.45,329.02 L405.91,328.00 L407.37,327.08 L408.83,326.24 L410.28,325.49 L411.72,324.85 L413.13,324.30 L414.52,323.85 L415.88,323.51 L417.20,323.27 L418.47,323.14 L419.70,323.11 L420.87,323.19 L421.98,323.37 L423.02,323.67 L424.00,324.06 L424.90,324.56 L425.73,325.16 Z" fill="#d2d2d2" fill-rule="evenodd" />
<path d="M462.12,341.03 L460.77,340.26 L459.31,339.64 L457.77,339.17 L456.13,338.85 L454.41,338.68 L452.61,338.66 L450.75,338.79 L448.82,339.07 L446.85,339.51 L444.83,340.09 L442.78,340.82 L440.70,341.69 L438.60,342.70 L436.50,343.84 L434.40,345.12 L432.31,346.52 L430.23,348.03 L428.19,349.66 L426.18,351.40 L424.22,353.23 L422.32,355.15 L420.47,357.15 L418.69,359.22 L417.00,361.36 L415.38,363.56 L413.86,365.80 L412.44,368.07 L411.12,370.37 L409.91,372.69 L408.82,375.01 L407.84,377.33 L406.99,379.64 L406.27,381.92 L405.68,384.17 L405.22,386.38 L404.90,388.53 L404.71,390.62 L404.66,392.64 L404.75,394.59 L404.97,396.44 L405.34,398.20 L405.83,399.86 L406.46,401.40 L407.22,402.83 L408.11,404.14 L409.12,405.32 L410.24,406.37 L411.48,407.27 L412.83,408.04 L414.29,408.66 L415.83,409.13 L417.47,409.45 L419.19,409.62 L420.99,409.64 L422.85,409.51 L424.78,409.23 L426.75,408.79 L428.77,408.21 L430.82,407.48 L432.90,406.61 L435.00,405.60 L437.10,404.46 L439.20,403.18 L441.29,401.78 L443.37,400.27 L445.41,398.64 L447.42,396.90 L449.38,395.07 L451.28,393.15 L453.13,391.15 L454.91,389.08 L456.60,386.94 L458.22,384.74 L459.74,382.50 L461.16,380.23 L462.48,377.93 L463.69,375.61 L464.78,373.29 L465.76,370.97 L466.61,368.66 L467.33,366.38 L467.92,364.13 L468.38,361.92 L468.70,359.77 L468.89,357.68 L468.94,355.66 L468.85,353.71 L468.63,351.86 L468.26,350.10 L467.77,348.44 L467.14,346.90 L466.38,345.47 L465.49,344.16 L464.48,342.98 L463.36,341.93 Z M461.74,345.89 L462.57,346.89 L463.28,348.00 L463.88,349.22 L464.37,350.55 L464.73,351.98 L464.98,353.50 L465.10,355.11 L465.11,356.81 L464.99,358.58 L464.76,360.41 L464.40,362.31 L463.92,364.25 L463.33,366.24 L462.63,368.26 L461.81,370.31 L460.89,372.37 L459.87,374.44 L458.74,376.51 L457.52,378.57 L456.22,380.61 L454.83,382.62 L453.36,384.60 L451.82,386.53 L450.22,388.41 L448.56,390.23 L446.85,391.98 L445.09,393.65 L443.30,395.24 L441.49,396.74 L439.65,398.14 L437.80,399.44 L435.95,400.63 L434.10,401.71 L432.26,402.66 L430.44,403.50 L428.65,404.21 L426.89,404.80 L425.18,405.25 L423.51,405.57 L421.91,405.75 L420.36,405.80 L418.89,405.71 L417.49,405.49 L416.18,405.13 L414.95,404.65 L413.82,404.03 L412.79,403.28 L411.86,402.41 L411.03,401.41 L410.32,400.30 L409.72,399.08 L409.23,397.75 L408.87,396.32 L408.62,394.80 L408.50,393.19 L408.49,391.49 L408.61,389.72 L408.84,387.89 L409.20,385.99 L409.68,384.05 L410.27,382.06 L410.97,380.04 L411.79,377.99 L412.71,375.93 L413.73,373.86 L414.86,371.79 L416.08,369.73 L417.38,367.69 L418.77,365.68 L420.24,363.70 L421.78,361.77 L423.38,359.89 L425.04,358.07 L426.75,356.32 L428.51,354.65 L430.30,353.06 L432.11,351.56 L433.95,350.16 L435.80,348.86 L437.65,347.67 L439.50,346.59 L441.34,345.64 L443.16,344.80 L444.95,344.09 L446.71,343.50 L448.42,343.05 L450.09,342.73 L451.69,342.55 L453.24,342.50 L454.71,342.59 L456.11,342.81 L457.42,343.17 L458.65,343.65 L459.78,344.27 L460.81,345.02 Z" fill="#111" fill-rule="evenodd" />
<line x1="535.5" y1="230.5" x2="149.6" y2="84.4" stroke="#2a2a2a" stroke-width="0.85"/>
<line x1="535.5" y1="230.5" x2="174.4" y2="105.2" stroke="#2a2a2a" stroke-width="0.85"/>
<line x1="535.5" y1="230.5" x2="210.5" y2="140.5" stroke="#2a2a2a" stroke-width="0.85"/>
<line x1="535.5" y1="230.5" x2="242.5" y2="165.3" stroke="#2a2a2a" stroke-width="0.85"/>
<polygon points="242.50,165.30 247.99,168.26 248.73,164.94" fill="#111"/>
<line x1="535.5" y1="230.5" x2="372" y2="273.5" stroke="#2a2a2a" stroke-width="0.85"/>
<polygon points="372.00,273.50 378.24,273.62 377.37,270.33" fill="#111"/>
<line x1="535.5" y1="230.5" x2="396.9" y2="294.7" stroke="#2a2a2a" stroke-width="0.85"/>
<polygon points="396.90,294.70 403.06,293.72 401.63,290.64" fill="#111"/>
<line x1="535.5" y1="230.5" x2="432.8" y2="327" stroke="#2a2a2a" stroke-width="0.85"/>
<polygon points="432.80,327.00 438.34,324.13 436.01,321.65" fill="#111"/>
<line x1="535.5" y1="230.5" x2="463.3" y2="340.8" stroke="#2a2a2a" stroke-width="0.85"/>
<text x="537.5" y="235.6" font-size="11.5" fill="#333" textLength="89.7" lengthAdjust="spacingAndGlyphs">10200 (Repair kit)</text>
<text x="537.5" y="246.4" font-size="11.5" fill="#333" textLength="55.7" lengthAdjust="spacingAndGlyphs">[80084759]</text>
<polygon points="741.20,208.20 741.20,246.80 730.90,246.80 730.90,313.40 734.90,313.40 734.90,340.40 731.30,340.40 731.30,364.50 724.20,364.50 724.20,375.80 755.00,375.80 755.00,377.00 873.60,377.00 873.60,375.80 904.40,375.80 904.40,364.50 897.30,364.50 897.30,340.40 893.70,340.40 893.70,313.40 897.70,313.40 897.70,246.80 887.40,246.80 887.40,208.20" fill="#c9a227" stroke="#15100a" stroke-width="1.3" stroke-linejoin="miter"/>
<rect x="759.70" y="209.50" width="109.20" height="167.00" fill="url(#bore)" />
<line x1="759.7" y1="243" x2="759.7" y2="376.5" stroke="#15100a" stroke-width="0.9"/>
<line x1="868.8999999999999" y1="243" x2="868.8999999999999" y2="376.5" stroke="#15100a" stroke-width="0.9"/>
<rect x="745.00" y="208.80" width="138.60" height="2.70" fill="url(#bore)" />
<polygon points="744.30,211.50 884.30,211.50 882.60,214.50 882.60,243.50 746.00,243.50 746.00,214.50" fill="url(#seal)" stroke="#15100a" stroke-width="1"/>
<rect x="746.00" y="212.00" width="136.60" height="7.00" fill="#0c0c0c" opacity="0.75"/>
<polygon points="746.00,214.50 760.00,219.00 760.00,243.00 746.00,243.00" fill="#1a1a1a" />
<polygon points="882.60,214.50 868.60,219.00 868.60,243.00 882.60,243.00" fill="#1a1a1a" />
<polygon points="744.30,283.50 884.30,283.50 882.60,286.50 882.60,317.20 746.00,317.20 746.00,286.50" fill="url(#seal)" stroke="#15100a" stroke-width="1"/>
<rect x="746.00" y="284.00" width="136.60" height="7.00" fill="#0c0c0c" opacity="0.75"/>
<polygon points="746.00,286.50 760.00,291.00 760.00,316.70 746.00,316.70" fill="#1a1a1a" />
<polygon points="882.60,286.50 868.60,291.00 868.60,316.70 882.60,316.70" fill="#1a1a1a" />
<rect x="747.00" y="250.40" width="134.60" height="24.20" fill="url(#band)" stroke="#15100a" stroke-width="1"/>
<rect x="745.50" y="336.80" width="137.60" height="26.20" fill="url(#seal)" stroke="#15100a" stroke-width="1"/>
<rect x="746.00" y="337.30" width="136.60" height="6.00" fill="#101010" opacity="0.85"/>
<rect x="746.00" y="343.40" width="136.60" height="3.00" fill="url(#band)" />
<rect x="746.00" y="337.50" width="14.00" height="4.70" fill="#b8b8c0" />
<rect x="868.60" y="337.50" width="14.00" height="4.70" fill="#b8b8c0" />
<rect x="746.00" y="346.40" width="14.00" height="16.10" fill="#1a1a1a" />
<rect x="868.60" y="346.40" width="14.00" height="16.10" fill="#1a1a1a" />
<rect x="788.00" y="357.00" width="20.00" height="4.00" fill="#4a4a4a" opacity="0.8"/>
<rect x="734.90" y="320.80" width="24.80" height="12.40" fill="#c9a227" stroke="#15100a" stroke-width="1"/>
<rect x="734.90" y="323.20" width="24.80" height="3.00" fill="#2a2000" />
<rect x="734.90" y="327.50" width="24.80" height="4.00" fill="#e0c020" opacity="0.7"/>
<rect x="868.90" y="320.80" width="24.80" height="12.40" fill="#c9a227" stroke="#15100a" stroke-width="1"/>
<rect x="868.90" y="323.20" width="24.80" height="3.00" fill="#2a2000" />
<rect x="868.90" y="327.50" width="24.80" height="4.00" fill="#e0c020" opacity="0.7"/>
<circle cx="813.9" cy="327.5" r="5.7" fill="#fff" stroke="#15100a" stroke-width="1.2"/>
<rect x="732.00" y="269.20" width="8.50" height="5.40" fill="#b6bac8" stroke="#15100a" stroke-width="0.9"/>
<rect x="888.10" y="269.20" width="8.50" height="5.40" fill="#b6bac8" stroke="#15100a" stroke-width="0.9"/>
<rect x="745.00" y="369.50" width="11.00" height="6.50" fill="#c9a227" stroke="#15100a" stroke-width="0.9"/>
<rect x="872.60" y="369.50" width="11.00" height="6.50" fill="#c9a227" stroke="#15100a" stroke-width="0.9"/>
<rect x="752.00" y="376.60" width="124.60" height="3.40" fill="#8e8e96" stroke="#15100a" stroke-width="0.8"/>
<rect x="731.50" y="255.00" width="10.50" height="19.60" fill="#c9a227" stroke="#15100a" stroke-width="1.2"/>
<rect x="886.60" y="255.00" width="10.50" height="19.60" fill="#c9a227" stroke="#15100a" stroke-width="1.2"/>
<rect x="732.00" y="269.20" width="8.50" height="5.40" fill="#b6bac8" stroke="#15100a" stroke-width="0.9"/>
<rect x="888.10" y="269.20" width="8.50" height="5.40" fill="#b6bac8" stroke="#15100a" stroke-width="0.9"/>
<circle cx="735.00" cy="262.8" r="7.6" fill="#b4b8c8" stroke="#15100a" stroke-width="1.3"/>
<circle cx="893.60" cy="262.8" r="7.6" fill="#b4b8c8" stroke="#15100a" stroke-width="1.3"/>
<circle cx="734.10" cy="359.5" r="4.8" fill="#b4b8c8" stroke="#15100a" stroke-width="1.3"/>
<circle cx="894.50" cy="359.5" r="4.8" fill="#b4b8c8" stroke="#15100a" stroke-width="1.3"/>
<circle cx="750.50" cy="375.9" r="4.8" fill="#b4b8c8" stroke="#15100a" stroke-width="1.3"/>
<circle cx="878.10" cy="375.9" r="4.8" fill="#b4b8c8" stroke="#15100a" stroke-width="1.3"/>
</svg>
</body></html>
